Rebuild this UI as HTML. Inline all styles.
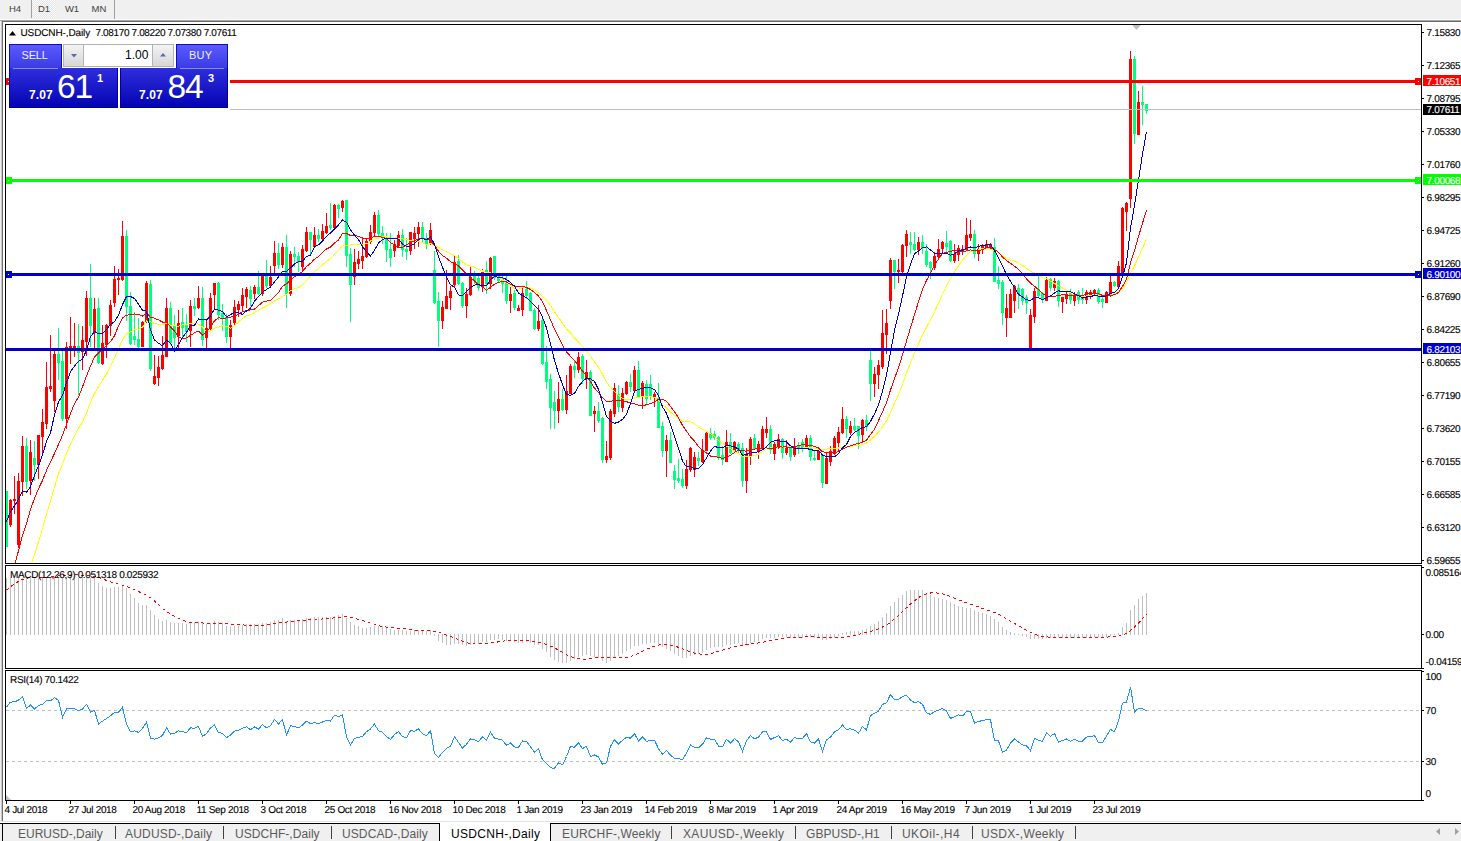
<!DOCTYPE html>
<html><head><meta charset="utf-8"><style>
html,body{margin:0;padding:0;}
body{width:1461px;height:841px;overflow:hidden;position:relative;background:#fff;font-family:"Liberation Sans",sans-serif;}
.t{position:absolute;white-space:pre;line-height:1;font-family:"Liberation Sans",sans-serif;}
.g{text-rendering:geometricPrecision;-webkit-text-stroke:0.12px currentColor;}
.bar{position:absolute;}
</style></head><body>
<div class="bar" style="left:0;top:0;width:1461px;height:19px;background:#f0f0f0"></div>
<div class="bar" style="left:0;top:19px;width:1461px;height:1px;background:#fafafa"></div>
<div class="bar" style="left:0;top:20px;width:1461px;height:1px;background:#a8a8a8"></div>
<div class="bar" style="left:0;top:21px;width:1461px;height:1px;background:#6a6a6a"></div>
<div class="bar" style="left:0;top:21px;width:1px;height:800px;background:#f0f0f0"></div>
<div class="bar" style="left:2px;top:21px;width:1px;height:800px;background:#6e6e6e"></div>
<div class="bar" style="left:1px;top:21px;width:1px;height:800px;background:#c8c8c8"></div>
<div class="bar" style="left:31px;top:0;width:1px;height:18px;background:#a0a0a0"></div>
<div class="bar" style="left:32px;top:0;width:25px;height:18px;background:repeating-conic-gradient(#e6e6e6 0% 25%,#fafafa 0% 50%) 0 0/2px 2px"></div>
<div class="bar" style="left:114px;top:0;width:1px;height:19px;background:#a0a0a0"></div>
<svg width="1461" height="841" style="position:absolute;left:0;top:0">
<defs><clipPath id="cm"><rect x="6" y="25" width="1415" height="538"/></clipPath><clipPath id="cmacd"><rect x="6" y="566" width="1415" height="102"/></clipPath><clipPath id="crsi"><rect x="6" y="671" width="1415" height="129"/></clipPath></defs>
<g clip-path="url(#cm)" shape-rendering="crispEdges">
<rect x="6" y="491" width="1" height="56" fill="#00ff7f"/>
<rect x="5" y="491" width="3" height="56" fill="#00ff7f"/>
<rect x="10" y="499" width="1" height="28" fill="#ff0000"/>
<rect x="9" y="500" width="3" height="25" fill="#ff0000"/>
<rect x="14" y="476" width="1" height="38" fill="#ff0000"/>
<rect x="13" y="499" width="3" height="2" fill="#ff0000"/>
<rect x="18" y="473" width="1" height="75" fill="#ff0000"/>
<rect x="17" y="481" width="3" height="64" fill="#ff0000"/>
<rect x="22" y="436" width="1" height="60" fill="#ff0000"/>
<rect x="21" y="446" width="3" height="36" fill="#ff0000"/>
<rect x="26" y="438" width="1" height="51" fill="#00ff7f"/>
<rect x="25" y="446" width="3" height="36" fill="#00ff7f"/>
<rect x="30" y="440" width="1" height="55" fill="#ff0000"/>
<rect x="29" y="452" width="3" height="29" fill="#ff0000"/>
<rect x="34" y="441" width="1" height="40" fill="#00ff7f"/>
<rect x="33" y="458" width="3" height="7" fill="#00ff7f"/>
<rect x="38" y="435" width="1" height="44" fill="#ff0000"/>
<rect x="37" y="435" width="3" height="30" fill="#ff0000"/>
<rect x="42" y="409" width="1" height="46" fill="#ff0000"/>
<rect x="41" y="422" width="3" height="15" fill="#ff0000"/>
<rect x="46" y="362" width="1" height="67" fill="#ff0000"/>
<rect x="45" y="387" width="3" height="37" fill="#ff0000"/>
<rect x="50" y="335" width="1" height="57" fill="#ff0000"/>
<rect x="49" y="386" width="3" height="3" fill="#ff0000"/>
<rect x="54" y="351" width="1" height="61" fill="#ff0000"/>
<rect x="53" y="354" width="3" height="47" fill="#ff0000"/>
<rect x="58" y="328" width="1" height="52" fill="#00ff7f"/>
<rect x="57" y="354" width="3" height="9" fill="#00ff7f"/>
<rect x="62" y="351" width="1" height="70" fill="#00ff7f"/>
<rect x="61" y="361" width="3" height="58" fill="#00ff7f"/>
<rect x="66" y="342" width="1" height="87" fill="#ff0000"/>
<rect x="65" y="347" width="3" height="72" fill="#ff0000"/>
<rect x="70" y="317" width="1" height="47" fill="#ff0000"/>
<rect x="69" y="346" width="3" height="4" fill="#ff0000"/>
<rect x="74" y="323" width="1" height="34" fill="#ff0000"/>
<rect x="73" y="346" width="3" height="4" fill="#ff0000"/>
<rect x="78" y="324" width="1" height="71" fill="#00ff7f"/>
<rect x="77" y="346" width="3" height="7" fill="#00ff7f"/>
<rect x="82" y="326" width="1" height="44" fill="#ff0000"/>
<rect x="81" y="340" width="3" height="12" fill="#ff0000"/>
<rect x="86" y="291" width="1" height="65" fill="#ff0000"/>
<rect x="85" y="298" width="3" height="44" fill="#ff0000"/>
<rect x="90" y="264" width="1" height="83" fill="#00ff7f"/>
<rect x="89" y="298" width="3" height="28" fill="#00ff7f"/>
<rect x="94" y="298" width="1" height="51" fill="#ff0000"/>
<rect x="93" y="309" width="3" height="24" fill="#ff0000"/>
<rect x="98" y="298" width="1" height="66" fill="#00ff7f"/>
<rect x="97" y="308" width="3" height="55" fill="#00ff7f"/>
<rect x="102" y="325" width="1" height="40" fill="#ff0000"/>
<rect x="101" y="343" width="3" height="21" fill="#ff0000"/>
<rect x="106" y="324" width="1" height="34" fill="#ff0000"/>
<rect x="105" y="325" width="3" height="20" fill="#ff0000"/>
<rect x="110" y="300" width="1" height="36" fill="#ff0000"/>
<rect x="109" y="305" width="3" height="21" fill="#ff0000"/>
<rect x="114" y="266" width="1" height="41" fill="#ff0000"/>
<rect x="113" y="279" width="3" height="24" fill="#ff0000"/>
<rect x="118" y="269" width="1" height="26" fill="#ff0000"/>
<rect x="117" y="278" width="3" height="2" fill="#ff0000"/>
<rect x="122" y="221" width="1" height="60" fill="#ff0000"/>
<rect x="121" y="236" width="3" height="44" fill="#ff0000"/>
<rect x="126" y="230" width="1" height="91" fill="#00ff7f"/>
<rect x="125" y="236" width="3" height="71" fill="#00ff7f"/>
<rect x="130" y="292" width="1" height="53" fill="#00ff7f"/>
<rect x="129" y="306" width="3" height="38" fill="#00ff7f"/>
<rect x="134" y="312" width="1" height="33" fill="#00ff7f"/>
<rect x="133" y="336" width="3" height="4" fill="#00ff7f"/>
<rect x="138" y="318" width="1" height="30" fill="#00ff7f"/>
<rect x="137" y="339" width="3" height="8" fill="#00ff7f"/>
<rect x="142" y="321" width="1" height="26" fill="#ff0000"/>
<rect x="141" y="322" width="3" height="25" fill="#ff0000"/>
<rect x="146" y="281" width="1" height="42" fill="#ff0000"/>
<rect x="145" y="283" width="3" height="39" fill="#ff0000"/>
<rect x="150" y="280" width="1" height="91" fill="#00ff7f"/>
<rect x="149" y="284" width="3" height="85" fill="#00ff7f"/>
<rect x="154" y="355" width="1" height="30" fill="#ff0000"/>
<rect x="153" y="376" width="3" height="8" fill="#ff0000"/>
<rect x="158" y="356" width="1" height="30" fill="#ff0000"/>
<rect x="157" y="367" width="3" height="11" fill="#ff0000"/>
<rect x="162" y="336" width="1" height="34" fill="#ff0000"/>
<rect x="161" y="355" width="3" height="14" fill="#ff0000"/>
<rect x="166" y="298" width="1" height="59" fill="#ff0000"/>
<rect x="165" y="308" width="3" height="49" fill="#ff0000"/>
<rect x="170" y="302" width="1" height="43" fill="#00ff7f"/>
<rect x="169" y="308" width="3" height="35" fill="#00ff7f"/>
<rect x="174" y="315" width="1" height="34" fill="#00ff7f"/>
<rect x="173" y="325" width="3" height="13" fill="#00ff7f"/>
<rect x="178" y="310" width="1" height="39" fill="#ff0000"/>
<rect x="177" y="323" width="3" height="13" fill="#ff0000"/>
<rect x="182" y="308" width="1" height="31" fill="#00ff7f"/>
<rect x="181" y="322" width="3" height="6" fill="#00ff7f"/>
<rect x="186" y="314" width="1" height="28" fill="#00ff7f"/>
<rect x="185" y="325" width="3" height="7" fill="#00ff7f"/>
<rect x="190" y="300" width="1" height="47" fill="#ff0000"/>
<rect x="189" y="306" width="3" height="25" fill="#ff0000"/>
<rect x="194" y="298" width="1" height="18" fill="#00ff7f"/>
<rect x="193" y="306" width="3" height="3" fill="#00ff7f"/>
<rect x="198" y="286" width="1" height="23" fill="#ff0000"/>
<rect x="197" y="298" width="3" height="10" fill="#ff0000"/>
<rect x="202" y="287" width="1" height="59" fill="#00ff7f"/>
<rect x="201" y="298" width="3" height="42" fill="#00ff7f"/>
<rect x="206" y="320" width="1" height="29" fill="#ff0000"/>
<rect x="205" y="328" width="3" height="10" fill="#ff0000"/>
<rect x="210" y="293" width="1" height="39" fill="#ff0000"/>
<rect x="209" y="298" width="3" height="31" fill="#ff0000"/>
<rect x="214" y="283" width="1" height="26" fill="#ff0000"/>
<rect x="213" y="283" width="3" height="12" fill="#ff0000"/>
<rect x="218" y="282" width="1" height="38" fill="#00ff7f"/>
<rect x="217" y="283" width="3" height="32" fill="#00ff7f"/>
<rect x="222" y="304" width="1" height="27" fill="#00ff7f"/>
<rect x="221" y="313" width="3" height="5" fill="#00ff7f"/>
<rect x="226" y="314" width="1" height="29" fill="#00ff7f"/>
<rect x="225" y="317" width="3" height="20" fill="#00ff7f"/>
<rect x="230" y="320" width="1" height="29" fill="#ff0000"/>
<rect x="229" y="325" width="3" height="12" fill="#ff0000"/>
<rect x="234" y="300" width="1" height="25" fill="#ff0000"/>
<rect x="233" y="307" width="3" height="16" fill="#ff0000"/>
<rect x="238" y="301" width="1" height="16" fill="#ff0000"/>
<rect x="237" y="304" width="3" height="6" fill="#ff0000"/>
<rect x="242" y="288" width="1" height="23" fill="#ff0000"/>
<rect x="241" y="295" width="3" height="11" fill="#ff0000"/>
<rect x="246" y="287" width="1" height="21" fill="#ff0000"/>
<rect x="245" y="289" width="3" height="8" fill="#ff0000"/>
<rect x="250" y="286" width="1" height="20" fill="#00ff7f"/>
<rect x="249" y="290" width="3" height="9" fill="#00ff7f"/>
<rect x="254" y="285" width="1" height="14" fill="#ff0000"/>
<rect x="253" y="287" width="3" height="7" fill="#ff0000"/>
<rect x="258" y="271" width="1" height="24" fill="#00ff7f"/>
<rect x="257" y="287" width="3" height="7" fill="#00ff7f"/>
<rect x="262" y="275" width="1" height="21" fill="#ff0000"/>
<rect x="261" y="276" width="3" height="18" fill="#ff0000"/>
<rect x="266" y="260" width="1" height="28" fill="#00ff7f"/>
<rect x="265" y="275" width="3" height="11" fill="#00ff7f"/>
<rect x="270" y="266" width="1" height="22" fill="#ff0000"/>
<rect x="269" y="277" width="3" height="9" fill="#ff0000"/>
<rect x="274" y="241" width="1" height="35" fill="#ff0000"/>
<rect x="273" y="253" width="3" height="13" fill="#ff0000"/>
<rect x="278" y="243" width="1" height="26" fill="#00ff7f"/>
<rect x="277" y="253" width="3" height="12" fill="#00ff7f"/>
<rect x="282" y="243" width="1" height="25" fill="#ff0000"/>
<rect x="281" y="247" width="3" height="18" fill="#ff0000"/>
<rect x="286" y="235" width="1" height="73" fill="#00ff7f"/>
<rect x="285" y="247" width="3" height="47" fill="#00ff7f"/>
<rect x="290" y="251" width="1" height="45" fill="#ff0000"/>
<rect x="289" y="254" width="3" height="40" fill="#ff0000"/>
<rect x="294" y="247" width="1" height="20" fill="#00ff7f"/>
<rect x="293" y="254" width="3" height="3" fill="#00ff7f"/>
<rect x="298" y="252" width="1" height="20" fill="#00ff7f"/>
<rect x="297" y="256" width="3" height="6" fill="#00ff7f"/>
<rect x="302" y="245" width="1" height="27" fill="#ff0000"/>
<rect x="301" y="249" width="3" height="18" fill="#ff0000"/>
<rect x="306" y="227" width="1" height="25" fill="#ff0000"/>
<rect x="305" y="232" width="3" height="19" fill="#ff0000"/>
<rect x="310" y="232" width="1" height="22" fill="#00ff7f"/>
<rect x="309" y="232" width="3" height="8" fill="#00ff7f"/>
<rect x="314" y="227" width="1" height="21" fill="#ff0000"/>
<rect x="313" y="235" width="3" height="12" fill="#ff0000"/>
<rect x="318" y="229" width="1" height="13" fill="#00ff7f"/>
<rect x="317" y="235" width="3" height="4" fill="#00ff7f"/>
<rect x="322" y="224" width="1" height="16" fill="#ff0000"/>
<rect x="321" y="231" width="3" height="8" fill="#ff0000"/>
<rect x="326" y="213" width="1" height="21" fill="#ff0000"/>
<rect x="325" y="226" width="3" height="7" fill="#ff0000"/>
<rect x="330" y="203" width="1" height="27" fill="#00ff7f"/>
<rect x="329" y="225" width="3" height="3" fill="#00ff7f"/>
<rect x="334" y="204" width="1" height="24" fill="#ff0000"/>
<rect x="333" y="205" width="3" height="23" fill="#ff0000"/>
<rect x="338" y="204" width="1" height="14" fill="#00ff7f"/>
<rect x="337" y="205" width="3" height="4" fill="#00ff7f"/>
<rect x="342" y="200" width="1" height="12" fill="#ff0000"/>
<rect x="341" y="201" width="3" height="7" fill="#ff0000"/>
<rect x="346" y="200" width="1" height="67" fill="#00ff7f"/>
<rect x="345" y="200" width="3" height="56" fill="#00ff7f"/>
<rect x="350" y="248" width="1" height="74" fill="#00ff7f"/>
<rect x="349" y="254" width="3" height="31" fill="#00ff7f"/>
<rect x="354" y="249" width="1" height="36" fill="#ff0000"/>
<rect x="353" y="262" width="3" height="15" fill="#ff0000"/>
<rect x="358" y="251" width="1" height="18" fill="#ff0000"/>
<rect x="357" y="259" width="3" height="5" fill="#ff0000"/>
<rect x="362" y="239" width="1" height="30" fill="#ff0000"/>
<rect x="361" y="256" width="3" height="5" fill="#ff0000"/>
<rect x="366" y="238" width="1" height="20" fill="#ff0000"/>
<rect x="365" y="241" width="3" height="16" fill="#ff0000"/>
<rect x="370" y="225" width="1" height="19" fill="#ff0000"/>
<rect x="369" y="232" width="3" height="10" fill="#ff0000"/>
<rect x="374" y="212" width="1" height="25" fill="#ff0000"/>
<rect x="373" y="215" width="3" height="18" fill="#ff0000"/>
<rect x="378" y="210" width="1" height="26" fill="#00ff7f"/>
<rect x="377" y="215" width="3" height="19" fill="#00ff7f"/>
<rect x="382" y="226" width="1" height="18" fill="#00ff7f"/>
<rect x="381" y="233" width="3" height="5" fill="#00ff7f"/>
<rect x="386" y="233" width="1" height="29" fill="#00ff7f"/>
<rect x="385" y="238" width="3" height="12" fill="#00ff7f"/>
<rect x="390" y="233" width="1" height="34" fill="#00ff7f"/>
<rect x="389" y="249" width="3" height="9" fill="#00ff7f"/>
<rect x="394" y="240" width="1" height="17" fill="#ff0000"/>
<rect x="393" y="244" width="3" height="7" fill="#ff0000"/>
<rect x="398" y="231" width="1" height="17" fill="#ff0000"/>
<rect x="397" y="235" width="3" height="11" fill="#ff0000"/>
<rect x="402" y="229" width="1" height="28" fill="#00ff7f"/>
<rect x="401" y="235" width="3" height="15" fill="#00ff7f"/>
<rect x="406" y="238" width="1" height="22" fill="#00ff7f"/>
<rect x="405" y="249" width="3" height="3" fill="#00ff7f"/>
<rect x="410" y="232" width="1" height="23" fill="#ff0000"/>
<rect x="409" y="232" width="3" height="19" fill="#ff0000"/>
<rect x="414" y="227" width="1" height="22" fill="#ff0000"/>
<rect x="413" y="233" width="3" height="6" fill="#ff0000"/>
<rect x="418" y="222" width="1" height="25" fill="#ff0000"/>
<rect x="417" y="227" width="3" height="7" fill="#ff0000"/>
<rect x="422" y="222" width="1" height="20" fill="#00ff7f"/>
<rect x="421" y="227" width="3" height="12" fill="#00ff7f"/>
<rect x="426" y="233" width="1" height="16" fill="#00ff7f"/>
<rect x="425" y="238" width="3" height="6" fill="#00ff7f"/>
<rect x="430" y="223" width="1" height="22" fill="#ff0000"/>
<rect x="429" y="230" width="3" height="14" fill="#ff0000"/>
<rect x="434" y="251" width="1" height="53" fill="#00ff7f"/>
<rect x="433" y="270" width="3" height="33" fill="#00ff7f"/>
<rect x="438" y="292" width="1" height="55" fill="#00ff7f"/>
<rect x="437" y="301" width="3" height="20" fill="#00ff7f"/>
<rect x="442" y="301" width="1" height="28" fill="#ff0000"/>
<rect x="441" y="307" width="3" height="14" fill="#ff0000"/>
<rect x="446" y="270" width="1" height="39" fill="#ff0000"/>
<rect x="445" y="296" width="3" height="13" fill="#ff0000"/>
<rect x="450" y="286" width="1" height="24" fill="#ff0000"/>
<rect x="449" y="291" width="3" height="7" fill="#ff0000"/>
<rect x="454" y="256" width="1" height="31" fill="#ff0000"/>
<rect x="453" y="262" width="3" height="23" fill="#ff0000"/>
<rect x="458" y="255" width="1" height="30" fill="#00ff7f"/>
<rect x="457" y="261" width="3" height="23" fill="#00ff7f"/>
<rect x="462" y="282" width="1" height="26" fill="#00ff7f"/>
<rect x="461" y="283" width="3" height="23" fill="#00ff7f"/>
<rect x="466" y="288" width="1" height="30" fill="#ff0000"/>
<rect x="465" y="294" width="3" height="12" fill="#ff0000"/>
<rect x="470" y="266" width="1" height="30" fill="#ff0000"/>
<rect x="469" y="277" width="3" height="18" fill="#ff0000"/>
<rect x="474" y="271" width="1" height="13" fill="#00ff7f"/>
<rect x="473" y="276" width="3" height="5" fill="#00ff7f"/>
<rect x="478" y="276" width="1" height="15" fill="#00ff7f"/>
<rect x="477" y="278" width="3" height="10" fill="#00ff7f"/>
<rect x="482" y="269" width="1" height="23" fill="#ff0000"/>
<rect x="481" y="272" width="3" height="15" fill="#ff0000"/>
<rect x="486" y="261" width="1" height="33" fill="#00ff7f"/>
<rect x="485" y="270" width="3" height="14" fill="#00ff7f"/>
<rect x="490" y="257" width="1" height="32" fill="#ff0000"/>
<rect x="489" y="258" width="3" height="26" fill="#ff0000"/>
<rect x="494" y="256" width="1" height="24" fill="#00ff7f"/>
<rect x="493" y="256" width="3" height="22" fill="#00ff7f"/>
<rect x="498" y="276" width="1" height="7" fill="#00ff7f"/>
<rect x="497" y="276" width="3" height="5" fill="#00ff7f"/>
<rect x="502" y="276" width="1" height="17" fill="#00ff7f"/>
<rect x="501" y="279" width="3" height="5" fill="#00ff7f"/>
<rect x="506" y="276" width="1" height="28" fill="#00ff7f"/>
<rect x="505" y="282" width="3" height="19" fill="#00ff7f"/>
<rect x="510" y="287" width="1" height="26" fill="#ff0000"/>
<rect x="509" y="294" width="3" height="7" fill="#ff0000"/>
<rect x="514" y="290" width="1" height="20" fill="#00ff7f"/>
<rect x="513" y="293" width="3" height="15" fill="#00ff7f"/>
<rect x="518" y="305" width="1" height="6" fill="#ff0000"/>
<rect x="517" y="308" width="3" height="3" fill="#ff0000"/>
<rect x="522" y="288" width="1" height="28" fill="#ff0000"/>
<rect x="521" y="293" width="3" height="17" fill="#ff0000"/>
<rect x="526" y="281" width="1" height="18" fill="#00ff7f"/>
<rect x="525" y="289" width="3" height="7" fill="#00ff7f"/>
<rect x="530" y="292" width="1" height="19" fill="#00ff7f"/>
<rect x="529" y="293" width="3" height="18" fill="#00ff7f"/>
<rect x="534" y="308" width="1" height="22" fill="#00ff7f"/>
<rect x="533" y="310" width="3" height="19" fill="#00ff7f"/>
<rect x="538" y="305" width="1" height="26" fill="#ff0000"/>
<rect x="537" y="321" width="3" height="8" fill="#ff0000"/>
<rect x="542" y="319" width="1" height="46" fill="#00ff7f"/>
<rect x="541" y="320" width="3" height="44" fill="#00ff7f"/>
<rect x="546" y="346" width="1" height="43" fill="#00ff7f"/>
<rect x="545" y="362" width="3" height="20" fill="#00ff7f"/>
<rect x="550" y="374" width="1" height="55" fill="#00ff7f"/>
<rect x="549" y="379" width="3" height="29" fill="#00ff7f"/>
<rect x="554" y="391" width="1" height="38" fill="#00ff7f"/>
<rect x="553" y="402" width="3" height="9" fill="#00ff7f"/>
<rect x="558" y="382" width="1" height="41" fill="#ff0000"/>
<rect x="557" y="399" width="3" height="12" fill="#ff0000"/>
<rect x="562" y="389" width="1" height="22" fill="#00ff7f"/>
<rect x="561" y="399" width="3" height="11" fill="#00ff7f"/>
<rect x="566" y="375" width="1" height="39" fill="#ff0000"/>
<rect x="565" y="391" width="3" height="19" fill="#ff0000"/>
<rect x="570" y="364" width="1" height="30" fill="#ff0000"/>
<rect x="569" y="366" width="3" height="28" fill="#ff0000"/>
<rect x="574" y="361" width="1" height="17" fill="#00ff7f"/>
<rect x="573" y="366" width="3" height="4" fill="#00ff7f"/>
<rect x="578" y="352" width="1" height="21" fill="#ff0000"/>
<rect x="577" y="357" width="3" height="13" fill="#ff0000"/>
<rect x="582" y="354" width="1" height="30" fill="#00ff7f"/>
<rect x="581" y="356" width="3" height="23" fill="#00ff7f"/>
<rect x="586" y="360" width="1" height="29" fill="#ff0000"/>
<rect x="585" y="372" width="3" height="6" fill="#ff0000"/>
<rect x="590" y="370" width="1" height="46" fill="#00ff7f"/>
<rect x="589" y="372" width="3" height="44" fill="#00ff7f"/>
<rect x="594" y="406" width="1" height="26" fill="#ff0000"/>
<rect x="593" y="411" width="3" height="3" fill="#ff0000"/>
<rect x="598" y="402" width="1" height="21" fill="#00ff7f"/>
<rect x="597" y="411" width="3" height="10" fill="#00ff7f"/>
<rect x="602" y="417" width="1" height="46" fill="#00ff7f"/>
<rect x="601" y="418" width="3" height="42" fill="#00ff7f"/>
<rect x="606" y="441" width="1" height="22" fill="#ff0000"/>
<rect x="605" y="456" width="3" height="4" fill="#ff0000"/>
<rect x="610" y="409" width="1" height="51" fill="#ff0000"/>
<rect x="609" y="411" width="3" height="47" fill="#ff0000"/>
<rect x="614" y="383" width="1" height="34" fill="#ff0000"/>
<rect x="613" y="388" width="3" height="26" fill="#ff0000"/>
<rect x="618" y="385" width="1" height="27" fill="#00ff7f"/>
<rect x="617" y="394" width="3" height="13" fill="#00ff7f"/>
<rect x="622" y="388" width="1" height="24" fill="#ff0000"/>
<rect x="621" y="393" width="3" height="15" fill="#ff0000"/>
<rect x="626" y="381" width="1" height="14" fill="#ff0000"/>
<rect x="625" y="382" width="3" height="12" fill="#ff0000"/>
<rect x="630" y="374" width="1" height="18" fill="#00ff7f"/>
<rect x="629" y="382" width="3" height="5" fill="#00ff7f"/>
<rect x="634" y="366" width="1" height="26" fill="#ff0000"/>
<rect x="633" y="370" width="3" height="21" fill="#ff0000"/>
<rect x="638" y="361" width="1" height="36" fill="#00ff7f"/>
<rect x="637" y="370" width="3" height="27" fill="#00ff7f"/>
<rect x="642" y="381" width="1" height="28" fill="#ff0000"/>
<rect x="641" y="383" width="3" height="14" fill="#ff0000"/>
<rect x="646" y="380" width="1" height="24" fill="#00ff7f"/>
<rect x="645" y="384" width="3" height="15" fill="#00ff7f"/>
<rect x="650" y="375" width="1" height="25" fill="#00ff7f"/>
<rect x="649" y="384" width="3" height="13" fill="#00ff7f"/>
<rect x="654" y="392" width="1" height="15" fill="#ff0000"/>
<rect x="653" y="394" width="3" height="3" fill="#ff0000"/>
<rect x="658" y="383" width="1" height="45" fill="#00ff7f"/>
<rect x="657" y="398" width="3" height="30" fill="#00ff7f"/>
<rect x="662" y="422" width="1" height="35" fill="#00ff7f"/>
<rect x="661" y="426" width="3" height="25" fill="#00ff7f"/>
<rect x="666" y="435" width="1" height="42" fill="#ff0000"/>
<rect x="665" y="440" width="3" height="11" fill="#ff0000"/>
<rect x="670" y="432" width="1" height="31" fill="#00ff7f"/>
<rect x="669" y="440" width="3" height="23" fill="#00ff7f"/>
<rect x="674" y="465" width="1" height="24" fill="#00ff7f"/>
<rect x="673" y="471" width="3" height="9" fill="#00ff7f"/>
<rect x="678" y="459" width="1" height="24" fill="#00ff7f"/>
<rect x="677" y="478" width="3" height="3" fill="#00ff7f"/>
<rect x="682" y="469" width="1" height="19" fill="#00ff7f"/>
<rect x="681" y="479" width="3" height="7" fill="#00ff7f"/>
<rect x="686" y="460" width="1" height="29" fill="#ff0000"/>
<rect x="685" y="469" width="3" height="17" fill="#ff0000"/>
<rect x="690" y="447" width="1" height="25" fill="#ff0000"/>
<rect x="689" y="448" width="3" height="22" fill="#ff0000"/>
<rect x="694" y="452" width="1" height="25" fill="#ff0000"/>
<rect x="693" y="457" width="3" height="13" fill="#ff0000"/>
<rect x="698" y="452" width="1" height="14" fill="#00ff7f"/>
<rect x="697" y="458" width="3" height="3" fill="#00ff7f"/>
<rect x="702" y="439" width="1" height="24" fill="#ff0000"/>
<rect x="701" y="450" width="3" height="12" fill="#ff0000"/>
<rect x="706" y="431" width="1" height="20" fill="#ff0000"/>
<rect x="705" y="433" width="3" height="18" fill="#ff0000"/>
<rect x="710" y="428" width="1" height="12" fill="#00ff7f"/>
<rect x="709" y="433" width="3" height="5" fill="#00ff7f"/>
<rect x="714" y="431" width="1" height="9" fill="#00ff7f"/>
<rect x="713" y="434" width="3" height="4" fill="#00ff7f"/>
<rect x="718" y="436" width="1" height="24" fill="#00ff7f"/>
<rect x="717" y="437" width="3" height="21" fill="#00ff7f"/>
<rect x="722" y="446" width="1" height="19" fill="#00ff7f"/>
<rect x="721" y="455" width="3" height="5" fill="#00ff7f"/>
<rect x="726" y="430" width="1" height="32" fill="#ff0000"/>
<rect x="725" y="442" width="3" height="20" fill="#ff0000"/>
<rect x="730" y="433" width="1" height="21" fill="#00ff7f"/>
<rect x="729" y="442" width="3" height="11" fill="#00ff7f"/>
<rect x="734" y="441" width="1" height="11" fill="#ff0000"/>
<rect x="733" y="442" width="3" height="9" fill="#ff0000"/>
<rect x="738" y="442" width="1" height="11" fill="#00ff7f"/>
<rect x="737" y="444" width="3" height="7" fill="#00ff7f"/>
<rect x="742" y="443" width="1" height="44" fill="#00ff7f"/>
<rect x="741" y="448" width="3" height="33" fill="#00ff7f"/>
<rect x="746" y="448" width="1" height="45" fill="#ff0000"/>
<rect x="745" y="454" width="3" height="27" fill="#ff0000"/>
<rect x="750" y="437" width="1" height="28" fill="#ff0000"/>
<rect x="749" y="439" width="3" height="17" fill="#ff0000"/>
<rect x="754" y="434" width="1" height="16" fill="#00ff7f"/>
<rect x="753" y="438" width="3" height="11" fill="#00ff7f"/>
<rect x="758" y="441" width="1" height="18" fill="#ff0000"/>
<rect x="757" y="444" width="3" height="8" fill="#ff0000"/>
<rect x="762" y="426" width="1" height="23" fill="#ff0000"/>
<rect x="761" y="429" width="3" height="19" fill="#ff0000"/>
<rect x="766" y="417" width="1" height="21" fill="#ff0000"/>
<rect x="765" y="429" width="3" height="4" fill="#ff0000"/>
<rect x="770" y="425" width="1" height="29" fill="#00ff7f"/>
<rect x="769" y="429" width="3" height="21" fill="#00ff7f"/>
<rect x="774" y="442" width="1" height="18" fill="#ff0000"/>
<rect x="773" y="444" width="3" height="10" fill="#ff0000"/>
<rect x="778" y="434" width="1" height="15" fill="#ff0000"/>
<rect x="777" y="439" width="3" height="9" fill="#ff0000"/>
<rect x="782" y="438" width="1" height="21" fill="#00ff7f"/>
<rect x="781" y="439" width="3" height="14" fill="#00ff7f"/>
<rect x="786" y="440" width="1" height="15" fill="#ff0000"/>
<rect x="785" y="448" width="3" height="5" fill="#ff0000"/>
<rect x="790" y="448" width="1" height="13" fill="#00ff7f"/>
<rect x="789" y="448" width="3" height="9" fill="#00ff7f"/>
<rect x="794" y="438" width="1" height="19" fill="#ff0000"/>
<rect x="793" y="446" width="3" height="9" fill="#ff0000"/>
<rect x="798" y="442" width="1" height="12" fill="#00ff7f"/>
<rect x="797" y="445" width="3" height="4" fill="#00ff7f"/>
<rect x="802" y="439" width="1" height="13" fill="#00ff7f"/>
<rect x="801" y="442" width="3" height="7" fill="#00ff7f"/>
<rect x="806" y="435" width="1" height="13" fill="#ff0000"/>
<rect x="805" y="438" width="3" height="9" fill="#ff0000"/>
<rect x="810" y="435" width="1" height="26" fill="#00ff7f"/>
<rect x="809" y="438" width="3" height="19" fill="#00ff7f"/>
<rect x="814" y="451" width="1" height="10" fill="#00ff7f"/>
<rect x="813" y="458" width="3" height="2" fill="#00ff7f"/>
<rect x="818" y="450" width="1" height="10" fill="#ff0000"/>
<rect x="817" y="451" width="3" height="9" fill="#ff0000"/>
<rect x="822" y="454" width="1" height="34" fill="#00ff7f"/>
<rect x="821" y="455" width="3" height="28" fill="#00ff7f"/>
<rect x="826" y="453" width="1" height="31" fill="#ff0000"/>
<rect x="825" y="458" width="3" height="26" fill="#ff0000"/>
<rect x="830" y="446" width="1" height="20" fill="#ff0000"/>
<rect x="829" y="451" width="3" height="11" fill="#ff0000"/>
<rect x="834" y="436" width="1" height="19" fill="#ff0000"/>
<rect x="833" y="438" width="3" height="16" fill="#ff0000"/>
<rect x="838" y="427" width="1" height="25" fill="#ff0000"/>
<rect x="837" y="432" width="3" height="11" fill="#ff0000"/>
<rect x="842" y="407" width="1" height="27" fill="#ff0000"/>
<rect x="841" y="419" width="3" height="14" fill="#ff0000"/>
<rect x="846" y="416" width="1" height="22" fill="#00ff7f"/>
<rect x="845" y="419" width="3" height="10" fill="#00ff7f"/>
<rect x="850" y="421" width="1" height="14" fill="#ff0000"/>
<rect x="849" y="426" width="3" height="7" fill="#ff0000"/>
<rect x="854" y="418" width="1" height="13" fill="#00ff7f"/>
<rect x="853" y="426" width="3" height="4" fill="#00ff7f"/>
<rect x="858" y="426" width="1" height="23" fill="#00ff7f"/>
<rect x="857" y="426" width="3" height="10" fill="#00ff7f"/>
<rect x="862" y="419" width="1" height="23" fill="#ff0000"/>
<rect x="861" y="420" width="3" height="15" fill="#ff0000"/>
<rect x="866" y="415" width="1" height="16" fill="#00ff7f"/>
<rect x="865" y="420" width="3" height="7" fill="#00ff7f"/>
<rect x="870" y="351" width="1" height="50" fill="#00ff7f"/>
<rect x="869" y="360" width="3" height="24" fill="#00ff7f"/>
<rect x="874" y="367" width="1" height="30" fill="#ff0000"/>
<rect x="873" y="374" width="3" height="10" fill="#ff0000"/>
<rect x="878" y="360" width="1" height="29" fill="#ff0000"/>
<rect x="877" y="365" width="3" height="10" fill="#ff0000"/>
<rect x="882" y="310" width="1" height="59" fill="#ff0000"/>
<rect x="881" y="333" width="3" height="34" fill="#ff0000"/>
<rect x="886" y="309" width="1" height="45" fill="#ff0000"/>
<rect x="885" y="323" width="3" height="12" fill="#ff0000"/>
<rect x="890" y="258" width="1" height="51" fill="#ff0000"/>
<rect x="889" y="260" width="3" height="41" fill="#ff0000"/>
<rect x="894" y="260" width="1" height="29" fill="#00ff7f"/>
<rect x="893" y="260" width="3" height="12" fill="#00ff7f"/>
<rect x="898" y="259" width="1" height="24" fill="#ff0000"/>
<rect x="897" y="270" width="3" height="2" fill="#ff0000"/>
<rect x="902" y="244" width="1" height="29" fill="#ff0000"/>
<rect x="901" y="245" width="3" height="27" fill="#ff0000"/>
<rect x="906" y="230" width="1" height="27" fill="#ff0000"/>
<rect x="905" y="234" width="3" height="12" fill="#ff0000"/>
<rect x="910" y="232" width="1" height="22" fill="#00ff7f"/>
<rect x="909" y="242" width="3" height="3" fill="#00ff7f"/>
<rect x="914" y="232" width="1" height="19" fill="#00ff7f"/>
<rect x="913" y="244" width="3" height="6" fill="#00ff7f"/>
<rect x="918" y="237" width="1" height="18" fill="#ff0000"/>
<rect x="917" y="242" width="3" height="8" fill="#ff0000"/>
<rect x="922" y="235" width="1" height="19" fill="#00ff7f"/>
<rect x="921" y="242" width="3" height="6" fill="#00ff7f"/>
<rect x="926" y="244" width="1" height="23" fill="#00ff7f"/>
<rect x="925" y="251" width="3" height="14" fill="#00ff7f"/>
<rect x="930" y="261" width="1" height="18" fill="#00ff7f"/>
<rect x="929" y="262" width="3" height="6" fill="#00ff7f"/>
<rect x="934" y="252" width="1" height="18" fill="#ff0000"/>
<rect x="933" y="256" width="3" height="12" fill="#ff0000"/>
<rect x="938" y="239" width="1" height="19" fill="#ff0000"/>
<rect x="937" y="249" width="3" height="8" fill="#ff0000"/>
<rect x="942" y="241" width="1" height="13" fill="#ff0000"/>
<rect x="941" y="242" width="3" height="7" fill="#ff0000"/>
<rect x="946" y="231" width="1" height="21" fill="#00ff7f"/>
<rect x="945" y="243" width="3" height="4" fill="#00ff7f"/>
<rect x="950" y="240" width="1" height="22" fill="#00ff7f"/>
<rect x="949" y="241" width="3" height="20" fill="#00ff7f"/>
<rect x="954" y="244" width="1" height="19" fill="#ff0000"/>
<rect x="953" y="254" width="3" height="7" fill="#ff0000"/>
<rect x="958" y="245" width="1" height="16" fill="#ff0000"/>
<rect x="957" y="248" width="3" height="7" fill="#ff0000"/>
<rect x="962" y="245" width="1" height="10" fill="#ff0000"/>
<rect x="961" y="249" width="3" height="2" fill="#ff0000"/>
<rect x="966" y="218" width="1" height="33" fill="#ff0000"/>
<rect x="965" y="235" width="3" height="15" fill="#ff0000"/>
<rect x="970" y="220" width="1" height="21" fill="#ff0000"/>
<rect x="969" y="234" width="3" height="4" fill="#ff0000"/>
<rect x="974" y="230" width="1" height="28" fill="#00ff7f"/>
<rect x="973" y="234" width="3" height="20" fill="#00ff7f"/>
<rect x="978" y="244" width="1" height="17" fill="#ff0000"/>
<rect x="977" y="249" width="3" height="5" fill="#ff0000"/>
<rect x="982" y="244" width="1" height="10" fill="#ff0000"/>
<rect x="981" y="246" width="3" height="4" fill="#ff0000"/>
<rect x="986" y="240" width="1" height="9" fill="#ff0000"/>
<rect x="985" y="244" width="3" height="5" fill="#ff0000"/>
<rect x="990" y="243" width="1" height="7" fill="#ff0000"/>
<rect x="989" y="244" width="3" height="5" fill="#ff0000"/>
<rect x="994" y="238" width="1" height="44" fill="#00ff7f"/>
<rect x="993" y="247" width="3" height="35" fill="#00ff7f"/>
<rect x="998" y="266" width="1" height="23" fill="#00ff7f"/>
<rect x="997" y="280" width="3" height="4" fill="#00ff7f"/>
<rect x="1002" y="280" width="1" height="45" fill="#00ff7f"/>
<rect x="1001" y="282" width="3" height="31" fill="#00ff7f"/>
<rect x="1006" y="294" width="1" height="43" fill="#ff0000"/>
<rect x="1005" y="308" width="3" height="10" fill="#ff0000"/>
<rect x="1010" y="289" width="1" height="29" fill="#ff0000"/>
<rect x="1009" y="294" width="3" height="24" fill="#ff0000"/>
<rect x="1014" y="285" width="1" height="28" fill="#ff0000"/>
<rect x="1013" y="286" width="3" height="15" fill="#ff0000"/>
<rect x="1018" y="284" width="1" height="25" fill="#00ff7f"/>
<rect x="1017" y="288" width="3" height="6" fill="#00ff7f"/>
<rect x="1022" y="288" width="1" height="17" fill="#00ff7f"/>
<rect x="1021" y="289" width="3" height="12" fill="#00ff7f"/>
<rect x="1026" y="295" width="1" height="19" fill="#00ff7f"/>
<rect x="1025" y="297" width="3" height="6" fill="#00ff7f"/>
<rect x="1030" y="309" width="1" height="41" fill="#ff0000"/>
<rect x="1029" y="315" width="3" height="35" fill="#ff0000"/>
<rect x="1034" y="288" width="1" height="35" fill="#ff0000"/>
<rect x="1033" y="291" width="3" height="26" fill="#ff0000"/>
<rect x="1038" y="276" width="1" height="21" fill="#00ff7f"/>
<rect x="1037" y="289" width="3" height="7" fill="#00ff7f"/>
<rect x="1042" y="292" width="1" height="11" fill="#00ff7f"/>
<rect x="1041" y="293" width="3" height="6" fill="#00ff7f"/>
<rect x="1046" y="277" width="1" height="24" fill="#ff0000"/>
<rect x="1045" y="280" width="3" height="21" fill="#ff0000"/>
<rect x="1050" y="278" width="1" height="13" fill="#00ff7f"/>
<rect x="1049" y="279" width="3" height="9" fill="#00ff7f"/>
<rect x="1054" y="278" width="1" height="13" fill="#ff0000"/>
<rect x="1053" y="281" width="3" height="7" fill="#ff0000"/>
<rect x="1058" y="280" width="1" height="27" fill="#00ff7f"/>
<rect x="1057" y="281" width="3" height="20" fill="#00ff7f"/>
<rect x="1062" y="297" width="1" height="16" fill="#ff0000"/>
<rect x="1061" y="297" width="3" height="5" fill="#ff0000"/>
<rect x="1066" y="290" width="1" height="14" fill="#ff0000"/>
<rect x="1065" y="294" width="3" height="5" fill="#ff0000"/>
<rect x="1070" y="289" width="1" height="15" fill="#00ff7f"/>
<rect x="1069" y="293" width="3" height="7" fill="#00ff7f"/>
<rect x="1074" y="292" width="1" height="14" fill="#ff0000"/>
<rect x="1073" y="295" width="3" height="6" fill="#ff0000"/>
<rect x="1078" y="290" width="1" height="14" fill="#00ff7f"/>
<rect x="1077" y="292" width="3" height="8" fill="#00ff7f"/>
<rect x="1082" y="288" width="1" height="16" fill="#00ff7f"/>
<rect x="1081" y="297" width="3" height="3" fill="#00ff7f"/>
<rect x="1086" y="290" width="1" height="14" fill="#ff0000"/>
<rect x="1085" y="292" width="3" height="8" fill="#ff0000"/>
<rect x="1090" y="290" width="1" height="9" fill="#ff0000"/>
<rect x="1089" y="292" width="3" height="4" fill="#ff0000"/>
<rect x="1094" y="289" width="1" height="7" fill="#ff0000"/>
<rect x="1093" y="290" width="3" height="3" fill="#ff0000"/>
<rect x="1098" y="288" width="1" height="16" fill="#00ff7f"/>
<rect x="1097" y="290" width="3" height="12" fill="#00ff7f"/>
<rect x="1102" y="297" width="1" height="11" fill="#00ff7f"/>
<rect x="1101" y="299" width="3" height="3" fill="#00ff7f"/>
<rect x="1106" y="291" width="1" height="12" fill="#ff0000"/>
<rect x="1105" y="292" width="3" height="11" fill="#ff0000"/>
<rect x="1110" y="276" width="1" height="21" fill="#ff0000"/>
<rect x="1109" y="282" width="3" height="13" fill="#ff0000"/>
<rect x="1114" y="281" width="1" height="6" fill="#00ff7f"/>
<rect x="1113" y="282" width="3" height="4" fill="#00ff7f"/>
<rect x="1118" y="261" width="1" height="27" fill="#ff0000"/>
<rect x="1117" y="266" width="3" height="21" fill="#ff0000"/>
<rect x="1122" y="207" width="1" height="66" fill="#ff0000"/>
<rect x="1121" y="208" width="3" height="65" fill="#ff0000"/>
<rect x="1126" y="202" width="1" height="29" fill="#ff0000"/>
<rect x="1125" y="203" width="3" height="9" fill="#ff0000"/>
<rect x="1130" y="51" width="1" height="157" fill="#ff0000"/>
<rect x="1129" y="59" width="3" height="140" fill="#ff0000"/>
<rect x="1134" y="56" width="1" height="88" fill="#00ff7f"/>
<rect x="1133" y="59" width="3" height="75" fill="#00ff7f"/>
<rect x="1138" y="91" width="1" height="44" fill="#ff0000"/>
<rect x="1137" y="102" width="3" height="33" fill="#ff0000"/>
<rect x="1142" y="86" width="1" height="39" fill="#00ff7f"/>
<rect x="1141" y="102" width="3" height="3" fill="#00ff7f"/>
<rect x="1146" y="104" width="1" height="10" fill="#00ff7f"/>
<rect x="1145" y="104" width="3" height="7" fill="#00ff7f"/>
</g>
<polyline points="6.5,642.70 10.5,631.04 14.5,619.32 18.5,606.75 22.5,592.51 26.5,579.93 30.5,566.00 34.5,554.47 38.5,542.01 42.5,528.60 46.5,514.31 50.5,501.12 54.5,487.21 58.5,473.74 62.5,464.05 66.5,453.42 70.5,444.20 74.5,435.62 78.5,428.31 82.5,422.04 86.5,412.95 90.5,402.43 94.5,393.33 98.5,386.83 102.5,380.26 106.5,374.50 110.5,366.12 114.5,357.90 118.5,349.05 122.5,339.55 126.5,334.03 130.5,331.93 134.5,329.68 138.5,329.28 142.5,327.38 146.5,320.95 150.5,321.95 154.5,323.38 158.5,324.38 162.5,324.52 166.5,323.00 170.5,325.09 174.5,325.66 178.5,326.33 182.5,324.64 186.5,324.07 190.5,323.14 194.5,323.28 198.5,324.19 202.5,327.09 206.5,331.47 210.5,331.09 214.5,328.23 218.5,327.06 222.5,325.70 226.5,326.38 230.5,328.36 234.5,325.46 238.5,322.03 242.5,318.60 246.5,315.46 250.5,314.98 254.5,312.36 258.5,310.27 262.5,308.03 266.5,306.03 270.5,303.46 274.5,300.96 278.5,298.86 282.5,296.43 286.5,294.24 290.5,290.72 294.5,288.72 298.5,287.67 302.5,284.58 306.5,280.53 310.5,275.91 314.5,271.64 318.5,268.36 322.5,264.88 326.5,261.60 330.5,258.64 334.5,254.21 338.5,250.45 342.5,246.07 346.5,245.07 350.5,245.00 354.5,244.29 358.5,244.57 362.5,244.19 366.5,243.90 370.5,241.00 374.5,239.14 378.5,238.05 382.5,236.90 386.5,236.90 390.5,238.10 394.5,238.33 398.5,238.33 402.5,238.86 406.5,239.81 410.5,240.12 414.5,240.42 418.5,241.47 422.5,242.92 426.5,244.92 430.5,243.73 434.5,244.61 438.5,247.38 442.5,249.66 446.5,251.57 450.5,253.95 454.5,255.38 458.5,258.61 462.5,262.04 466.5,264.76 470.5,266.09 474.5,267.19 478.5,269.23 482.5,271.00 486.5,272.61 490.5,272.95 494.5,275.07 498.5,277.29 502.5,279.95 506.5,282.88 510.5,285.31 514.5,288.98 518.5,289.26 522.5,287.98 526.5,287.40 530.5,288.07 534.5,289.83 538.5,292.64 542.5,296.45 546.5,300.07 550.5,305.45 554.5,311.79 558.5,317.45 562.5,323.26 566.5,328.93 570.5,332.86 574.5,338.14 578.5,341.95 582.5,346.62 586.5,350.86 590.5,356.33 594.5,361.90 598.5,367.29 602.5,374.48 606.5,382.22 610.5,387.72 614.5,391.46 618.5,395.18 622.5,398.60 626.5,399.51 630.5,399.75 634.5,397.99 638.5,397.32 642.5,396.56 646.5,396.03 650.5,396.27 654.5,397.65 658.5,400.41 662.5,404.86 666.5,407.81 670.5,412.10 674.5,415.15 678.5,418.43 682.5,421.53 686.5,422.00 690.5,421.64 694.5,423.85 698.5,427.23 702.5,429.33 706.5,431.23 710.5,433.85 714.5,436.26 718.5,440.40 722.5,443.40 726.5,446.21 730.5,448.79 734.5,450.98 738.5,453.65 742.5,456.17 746.5,456.34 750.5,456.29 754.5,455.65 758.5,453.98 762.5,451.55 766.5,448.89 770.5,447.93 774.5,447.74 778.5,446.89 782.5,446.53 786.5,446.46 790.5,447.55 794.5,447.98 798.5,448.55 802.5,448.14 806.5,447.14 810.5,447.81 814.5,448.13 818.5,448.56 822.5,450.08 826.5,449.03 830.5,448.89 834.5,448.84 838.5,448.03 842.5,446.84 846.5,446.80 850.5,446.67 854.5,445.72 858.5,445.29 862.5,444.36 866.5,443.12 870.5,440.00 874.5,436.10 878.5,432.24 882.5,426.74 886.5,420.79 890.5,412.31 894.5,403.50 898.5,394.51 902.5,384.70 906.5,372.87 910.5,362.66 914.5,353.04 918.5,343.70 922.5,334.92 926.5,327.54 930.5,319.87 934.5,311.76 938.5,303.17 942.5,293.98 946.5,285.71 950.5,277.79 954.5,271.63 958.5,265.62 962.5,260.11 966.5,255.45 970.5,251.19 974.5,250.86 978.5,249.81 982.5,248.67 986.5,248.63 990.5,249.12 994.5,250.91 998.5,252.51 1002.5,255.84 1006.5,258.75 1010.5,260.20 1014.5,261.10 1018.5,262.87 1022.5,265.31 1026.5,268.17 1030.5,271.46 1034.5,272.95 1038.5,274.92 1042.5,277.31 1046.5,278.77 1050.5,281.25 1054.5,283.49 1058.5,285.72 1062.5,288.01 1066.5,290.30 1070.5,292.90 1074.5,295.31 1078.5,296.17 1082.5,296.95 1086.5,296.02 1090.5,295.26 1094.5,295.06 1098.5,295.77 1102.5,296.15 1106.5,295.77 1110.5,294.82 1114.5,293.39 1118.5,292.20 1122.5,288.04 1126.5,283.51 1130.5,272.99 1134.5,265.66 1138.5,257.13 1142.5,247.80 1146.5,238.88" fill="none" stroke="#ffff00" stroke-width="1" clip-path="url(#cm)" shape-rendering="crispEdges"/>
<polyline points="6.5,594.14 10.5,580.06 14.5,565.44 18.5,550.72 22.5,535.22 26.5,523.43 30.5,509.65 34.5,498.39 38.5,488.77 42.5,480.37 46.5,470.43 50.5,461.89 54.5,453.48 58.5,444.39 62.5,435.25 66.5,424.32 70.5,413.39 74.5,403.75 78.5,397.04 82.5,386.96 86.5,376.00 90.5,366.07 94.5,357.04 98.5,352.79 102.5,349.65 106.5,345.29 110.5,341.79 114.5,335.89 118.5,325.89 122.5,317.96 126.5,315.11 130.5,314.89 134.5,313.94 138.5,314.34 142.5,316.03 146.5,313.03 150.5,317.24 154.5,318.21 158.5,319.92 162.5,322.06 166.5,322.28 170.5,326.78 174.5,330.99 178.5,337.21 182.5,338.71 186.5,337.85 190.5,335.48 194.5,332.80 198.5,331.11 202.5,335.11 206.5,332.25 210.5,326.68 214.5,320.68 218.5,317.75 222.5,318.39 226.5,317.96 230.5,317.08 234.5,315.94 238.5,314.29 242.5,311.72 246.5,310.54 250.5,309.83 254.5,309.04 258.5,305.76 262.5,302.04 266.5,301.11 270.5,300.69 274.5,296.33 278.5,292.54 282.5,286.19 286.5,283.93 290.5,280.14 294.5,276.71 298.5,274.29 302.5,271.43 306.5,266.71 310.5,263.29 314.5,259.14 318.5,256.43 322.5,252.57 326.5,248.93 330.5,247.07 334.5,242.86 338.5,240.07 342.5,233.50 346.5,233.57 350.5,235.54 354.5,235.61 358.5,236.32 362.5,238.04 366.5,238.18 370.5,237.96 374.5,236.32 378.5,236.46 382.5,237.25 386.5,238.82 390.5,242.54 394.5,245.11 398.5,247.54 402.5,247.11 406.5,244.79 410.5,242.68 414.5,240.85 418.5,238.78 422.5,238.60 426.5,239.39 430.5,240.46 434.5,245.39 438.5,251.31 442.5,255.46 446.5,258.24 450.5,261.60 454.5,263.53 458.5,265.96 462.5,269.81 466.5,274.21 470.5,277.32 474.5,281.11 478.5,284.57 482.5,286.64 486.5,290.43 490.5,287.29 494.5,284.21 498.5,282.29 502.5,281.36 506.5,282.00 510.5,284.29 514.5,286.00 518.5,286.21 522.5,286.14 526.5,287.43 530.5,289.57 534.5,292.50 538.5,296.00 542.5,301.71 546.5,310.50 550.5,319.79 554.5,329.07 558.5,337.36 562.5,345.14 566.5,352.07 570.5,356.25 574.5,360.61 578.5,365.18 582.5,371.11 586.5,375.54 590.5,381.75 594.5,388.18 598.5,392.25 602.5,397.82 606.5,401.29 610.5,401.34 614.5,400.59 618.5,400.37 622.5,400.51 626.5,401.69 630.5,402.91 634.5,403.84 638.5,405.12 642.5,405.91 646.5,404.69 650.5,403.62 654.5,401.79 658.5,399.51 662.5,399.14 666.5,401.24 670.5,406.49 674.5,411.71 678.5,417.92 682.5,425.28 686.5,431.21 690.5,436.78 694.5,441.14 698.5,446.60 702.5,450.31 706.5,452.96 710.5,456.00 714.5,456.69 718.5,457.15 722.5,458.51 726.5,457.08 730.5,455.15 734.5,452.44 738.5,449.97 742.5,450.76 746.5,451.19 750.5,449.90 754.5,449.11 758.5,448.69 762.5,448.40 766.5,447.83 770.5,448.71 774.5,447.79 778.5,446.36 782.5,447.07 786.5,446.82 790.5,447.82 794.5,447.50 798.5,445.25 802.5,444.86 806.5,444.79 810.5,445.32 814.5,446.37 818.5,447.94 822.5,451.76 826.5,452.41 830.5,452.91 834.5,452.84 838.5,451.37 842.5,449.26 846.5,447.26 850.5,445.86 854.5,444.47 858.5,443.51 862.5,442.19 866.5,440.04 870.5,434.64 874.5,429.14 878.5,420.74 882.5,411.81 886.5,402.70 890.5,389.99 894.5,378.52 898.5,367.88 902.5,354.81 906.5,341.06 910.5,327.81 914.5,314.53 918.5,301.85 922.5,289.06 926.5,280.56 930.5,272.92 934.5,265.14 938.5,259.11 942.5,253.29 946.5,252.29 950.5,251.48 954.5,250.31 958.5,250.51 962.5,251.61 966.5,251.00 970.5,249.93 974.5,250.71 978.5,250.86 982.5,249.57 986.5,247.95 990.5,247.11 994.5,249.43 998.5,252.33 1002.5,257.04 1006.5,260.50 1010.5,263.41 1014.5,266.15 1018.5,269.26 1022.5,273.91 1026.5,278.76 1030.5,283.19 1034.5,286.19 1038.5,289.69 1042.5,293.53 1046.5,296.08 1050.5,296.51 1054.5,296.39 1058.5,295.54 1062.5,294.75 1066.5,294.71 1070.5,295.64 1074.5,295.79 1078.5,295.71 1082.5,295.50 1086.5,293.89 1090.5,293.96 1094.5,293.62 1098.5,293.84 1102.5,295.34 1106.5,295.69 1110.5,295.76 1114.5,294.69 1118.5,292.48 1122.5,286.31 1126.5,279.45 1130.5,262.59 1134.5,250.74 1138.5,236.66 1142.5,223.21 1146.5,210.18" fill="none" stroke="#ff0000" stroke-width="1" clip-path="url(#cm)" shape-rendering="crispEdges"/>
<polyline points="6.5,521.65 10.5,511.62 14.5,505.82 18.5,499.37 22.5,490.86 26.5,492.19 30.5,486.86 34.5,475.14 38.5,465.91 42.5,454.91 46.5,441.49 50.5,432.91 54.5,414.77 58.5,401.93 62.5,395.36 66.5,382.73 70.5,371.87 74.5,366.01 78.5,361.16 82.5,359.16 86.5,350.07 90.5,336.79 94.5,331.36 98.5,333.71 102.5,333.29 106.5,329.43 110.5,324.43 114.5,321.71 118.5,315.00 122.5,304.57 126.5,296.50 130.5,296.50 134.5,298.46 138.5,304.24 142.5,310.34 146.5,311.06 150.5,329.91 154.5,339.91 158.5,343.34 162.5,345.67 166.5,340.31 170.5,343.21 174.5,350.93 178.5,344.50 182.5,337.50 186.5,332.36 190.5,325.29 194.5,325.29 198.5,319.00 202.5,319.29 206.5,320.00 210.5,315.86 214.5,309.00 218.5,310.21 222.5,311.50 226.5,316.93 230.5,314.87 234.5,311.87 238.5,312.73 242.5,314.44 246.5,310.87 250.5,308.16 254.5,301.16 258.5,296.64 262.5,292.21 266.5,289.50 270.5,286.93 274.5,281.79 278.5,276.93 282.5,271.21 286.5,271.21 290.5,268.07 294.5,263.93 298.5,261.64 302.5,261.07 306.5,256.50 310.5,255.36 314.5,247.07 318.5,244.79 322.5,241.21 326.5,236.21 330.5,233.07 334.5,229.21 338.5,224.79 342.5,219.93 346.5,222.36 350.5,229.86 354.5,235.00 358.5,239.57 362.5,246.86 366.5,251.57 370.5,256.00 374.5,250.29 378.5,243.07 382.5,239.50 386.5,238.07 390.5,238.21 394.5,238.64 398.5,239.07 402.5,243.93 406.5,246.50 410.5,245.86 414.5,243.63 418.5,239.34 422.5,238.56 426.5,239.70 430.5,236.99 434.5,244.27 438.5,256.77 442.5,267.29 446.5,277.14 450.5,284.64 454.5,287.36 458.5,294.93 462.5,295.36 466.5,291.64 470.5,287.36 474.5,285.07 478.5,284.50 482.5,285.93 486.5,285.93 490.5,279.21 494.5,276.79 498.5,277.21 502.5,277.64 506.5,279.50 510.5,282.64 514.5,286.07 518.5,293.21 522.5,295.50 526.5,297.64 530.5,301.50 534.5,305.50 538.5,309.36 542.5,317.36 546.5,327.79 550.5,344.07 554.5,360.50 558.5,373.21 562.5,384.79 566.5,394.79 570.5,395.14 574.5,393.43 578.5,386.29 582.5,381.71 586.5,377.86 590.5,378.71 594.5,381.57 598.5,389.36 602.5,402.21 606.5,416.30 610.5,420.96 614.5,423.31 618.5,422.03 622.5,419.46 626.5,414.03 630.5,403.60 634.5,391.37 638.5,389.29 642.5,388.50 646.5,387.36 650.5,387.79 654.5,389.56 658.5,395.41 662.5,406.91 666.5,413.20 670.5,424.49 674.5,436.06 678.5,448.06 682.5,461.00 686.5,467.00 690.5,466.64 694.5,469.07 698.5,468.71 702.5,464.57 706.5,457.86 710.5,451.00 714.5,446.37 718.5,447.66 722.5,447.94 726.5,445.44 730.5,445.73 734.5,447.01 738.5,448.94 742.5,455.14 746.5,454.71 750.5,451.86 754.5,452.79 758.5,451.64 762.5,449.79 766.5,446.71 770.5,442.29 774.5,440.86 778.5,440.86 782.5,441.36 786.5,442.00 790.5,445.86 794.5,448.29 798.5,448.21 802.5,448.86 806.5,448.71 810.5,449.29 814.5,450.74 818.5,450.03 822.5,455.24 826.5,456.60 830.5,456.96 834.5,456.96 838.5,453.46 842.5,447.79 846.5,444.50 850.5,436.49 854.5,432.34 858.5,430.06 862.5,427.41 866.5,426.63 870.5,421.49 874.5,413.77 878.5,405.00 882.5,391.29 886.5,375.34 890.5,352.56 894.5,330.41 898.5,314.27 902.5,295.84 906.5,277.13 910.5,264.34 914.5,253.71 918.5,251.14 922.5,247.71 926.5,246.86 930.5,250.00 934.5,253.14 938.5,253.87 942.5,252.87 946.5,253.44 950.5,255.24 954.5,253.77 958.5,251.01 962.5,250.07 966.5,248.13 970.5,246.99 974.5,247.99 978.5,246.47 982.5,245.37 986.5,244.89 990.5,244.16 994.5,250.73 998.5,257.67 1002.5,266.10 1006.5,274.53 1010.5,281.46 1014.5,287.41 1018.5,294.37 1022.5,297.09 1026.5,299.86 1030.5,300.29 1034.5,297.86 1038.5,297.93 1042.5,299.64 1046.5,297.79 1050.5,295.93 1054.5,292.93 1058.5,290.79 1062.5,291.64 1066.5,291.50 1070.5,291.64 1074.5,293.79 1078.5,295.50 1082.5,298.07 1086.5,296.99 1090.5,296.27 1094.5,295.74 1098.5,296.03 1102.5,296.89 1106.5,295.89 1110.5,293.46 1114.5,292.40 1118.5,288.69 1122.5,276.87 1126.5,262.87 1130.5,228.30 1134.5,205.59 1138.5,179.87 1142.5,154.01 1146.5,131.67" fill="none" stroke="#0000cd" stroke-width="1" clip-path="url(#cm)" shape-rendering="crispEdges"/>
<rect x="230" y="109" width="1191" height="1" fill="#c0c0c0"/>
<g shape-rendering="crispEdges">
<rect x="6" y="80" width="1415" height="3" fill="#ff0000"/>
<rect x="5" y="78" width="7" height="7" fill="#ff0000"/>
<rect x="8" y="81" width="1" height="1" fill="#ffffff"/>
<rect x="1415" y="78" width="7" height="7" fill="#ff0000"/>
<rect x="1418" y="81" width="1" height="1" fill="#ffffff"/>
<rect x="6" y="179" width="1415" height="3" fill="#00ff00"/>
<rect x="5" y="177" width="7" height="7" fill="#00ff00"/>
<rect x="8" y="180" width="1" height="1" fill="#ffffff"/>
<rect x="1415" y="177" width="7" height="7" fill="#00ff00"/>
<rect x="1418" y="180" width="1" height="1" fill="#ffffff"/>
<rect x="6" y="273" width="1415" height="3" fill="#0000cd"/>
<rect x="5" y="271" width="7" height="7" fill="#0000cd"/>
<rect x="8" y="274" width="1" height="1" fill="#ffffff"/>
<rect x="1415" y="271" width="7" height="7" fill="#0000cd"/>
<rect x="1418" y="274" width="1" height="1" fill="#ffffff"/>
<rect x="6" y="348" width="1415" height="3" fill="#0000cd"/>
</g>
<polygon points="1132,25 1141,25 1136.5,30" fill="#c0c0c0"/>
<g clip-path="url(#cmacd)" shape-rendering="crispEdges">
<rect x="6" y="578" width="1" height="57" fill="#c0c0c0"/>
<rect x="10" y="578" width="1" height="57" fill="#c0c0c0"/>
<rect x="14" y="578" width="1" height="57" fill="#c0c0c0"/>
<rect x="18" y="578" width="1" height="57" fill="#c0c0c0"/>
<rect x="22" y="578" width="1" height="57" fill="#c0c0c0"/>
<rect x="26" y="578" width="1" height="57" fill="#c0c0c0"/>
<rect x="30" y="578" width="1" height="57" fill="#c0c0c0"/>
<rect x="34" y="578" width="1" height="57" fill="#c0c0c0"/>
<rect x="38" y="578" width="1" height="57" fill="#c0c0c0"/>
<rect x="42" y="578" width="1" height="57" fill="#c0c0c0"/>
<rect x="46" y="578" width="1" height="57" fill="#c0c0c0"/>
<rect x="50" y="578" width="1" height="57" fill="#c0c0c0"/>
<rect x="54" y="578" width="1" height="57" fill="#c0c0c0"/>
<rect x="58" y="578" width="1" height="57" fill="#c0c0c0"/>
<rect x="62" y="578" width="1" height="57" fill="#c0c0c0"/>
<rect x="66" y="578" width="1" height="57" fill="#c0c0c0"/>
<rect x="70" y="578" width="1" height="57" fill="#c0c0c0"/>
<rect x="74" y="578" width="1" height="57" fill="#c0c0c0"/>
<rect x="78" y="578" width="1" height="57" fill="#c0c0c0"/>
<rect x="82" y="578" width="1" height="57" fill="#c0c0c0"/>
<rect x="86" y="578" width="1" height="57" fill="#c0c0c0"/>
<rect x="90" y="578" width="1" height="57" fill="#c0c0c0"/>
<rect x="94" y="578" width="1" height="57" fill="#c0c0c0"/>
<rect x="98" y="583" width="1" height="52" fill="#c0c0c0"/>
<rect x="102" y="586" width="1" height="49" fill="#c0c0c0"/>
<rect x="106" y="588" width="1" height="47" fill="#c0c0c0"/>
<rect x="110" y="588" width="1" height="47" fill="#c0c0c0"/>
<rect x="114" y="587" width="1" height="48" fill="#c0c0c0"/>
<rect x="118" y="587" width="1" height="48" fill="#c0c0c0"/>
<rect x="122" y="585" width="1" height="50" fill="#c0c0c0"/>
<rect x="126" y="588" width="1" height="47" fill="#c0c0c0"/>
<rect x="130" y="594" width="1" height="41" fill="#c0c0c0"/>
<rect x="134" y="598" width="1" height="37" fill="#c0c0c0"/>
<rect x="138" y="603" width="1" height="32" fill="#c0c0c0"/>
<rect x="142" y="605" width="1" height="30" fill="#c0c0c0"/>
<rect x="146" y="605" width="1" height="30" fill="#c0c0c0"/>
<rect x="150" y="610" width="1" height="25" fill="#c0c0c0"/>
<rect x="154" y="615" width="1" height="20" fill="#c0c0c0"/>
<rect x="158" y="619" width="1" height="16" fill="#c0c0c0"/>
<rect x="162" y="621" width="1" height="14" fill="#c0c0c0"/>
<rect x="166" y="620" width="1" height="15" fill="#c0c0c0"/>
<rect x="170" y="622" width="1" height="13" fill="#c0c0c0"/>
<rect x="174" y="623" width="1" height="12" fill="#c0c0c0"/>
<rect x="178" y="623" width="1" height="12" fill="#c0c0c0"/>
<rect x="182" y="623" width="1" height="12" fill="#c0c0c0"/>
<rect x="186" y="624" width="1" height="11" fill="#c0c0c0"/>
<rect x="190" y="623" width="1" height="12" fill="#c0c0c0"/>
<rect x="194" y="622" width="1" height="13" fill="#c0c0c0"/>
<rect x="198" y="621" width="1" height="14" fill="#c0c0c0"/>
<rect x="202" y="623" width="1" height="12" fill="#c0c0c0"/>
<rect x="206" y="624" width="1" height="11" fill="#c0c0c0"/>
<rect x="210" y="623" width="1" height="12" fill="#c0c0c0"/>
<rect x="214" y="621" width="1" height="14" fill="#c0c0c0"/>
<rect x="218" y="622" width="1" height="13" fill="#c0c0c0"/>
<rect x="222" y="623" width="1" height="12" fill="#c0c0c0"/>
<rect x="226" y="626" width="1" height="9" fill="#c0c0c0"/>
<rect x="230" y="627" width="1" height="8" fill="#c0c0c0"/>
<rect x="234" y="626" width="1" height="9" fill="#c0c0c0"/>
<rect x="238" y="626" width="1" height="9" fill="#c0c0c0"/>
<rect x="242" y="625" width="1" height="10" fill="#c0c0c0"/>
<rect x="246" y="624" width="1" height="11" fill="#c0c0c0"/>
<rect x="250" y="624" width="1" height="11" fill="#c0c0c0"/>
<rect x="254" y="624" width="1" height="11" fill="#c0c0c0"/>
<rect x="258" y="624" width="1" height="11" fill="#c0c0c0"/>
<rect x="262" y="623" width="1" height="12" fill="#c0c0c0"/>
<rect x="266" y="623" width="1" height="12" fill="#c0c0c0"/>
<rect x="270" y="622" width="1" height="13" fill="#c0c0c0"/>
<rect x="274" y="620" width="1" height="15" fill="#c0c0c0"/>
<rect x="278" y="620" width="1" height="15" fill="#c0c0c0"/>
<rect x="282" y="618" width="1" height="17" fill="#c0c0c0"/>
<rect x="286" y="621" width="1" height="14" fill="#c0c0c0"/>
<rect x="290" y="620" width="1" height="15" fill="#c0c0c0"/>
<rect x="294" y="620" width="1" height="15" fill="#c0c0c0"/>
<rect x="298" y="620" width="1" height="15" fill="#c0c0c0"/>
<rect x="302" y="619" width="1" height="16" fill="#c0c0c0"/>
<rect x="306" y="618" width="1" height="17" fill="#c0c0c0"/>
<rect x="310" y="618" width="1" height="17" fill="#c0c0c0"/>
<rect x="314" y="617" width="1" height="18" fill="#c0c0c0"/>
<rect x="318" y="617" width="1" height="18" fill="#c0c0c0"/>
<rect x="322" y="617" width="1" height="18" fill="#c0c0c0"/>
<rect x="326" y="617" width="1" height="18" fill="#c0c0c0"/>
<rect x="330" y="617" width="1" height="18" fill="#c0c0c0"/>
<rect x="334" y="616" width="1" height="19" fill="#c0c0c0"/>
<rect x="338" y="615" width="1" height="20" fill="#c0c0c0"/>
<rect x="342" y="614" width="1" height="21" fill="#c0c0c0"/>
<rect x="346" y="618" width="1" height="17" fill="#c0c0c0"/>
<rect x="350" y="622" width="1" height="13" fill="#c0c0c0"/>
<rect x="354" y="625" width="1" height="10" fill="#c0c0c0"/>
<rect x="358" y="626" width="1" height="9" fill="#c0c0c0"/>
<rect x="362" y="628" width="1" height="7" fill="#c0c0c0"/>
<rect x="366" y="628" width="1" height="7" fill="#c0c0c0"/>
<rect x="370" y="627" width="1" height="8" fill="#c0c0c0"/>
<rect x="374" y="626" width="1" height="9" fill="#c0c0c0"/>
<rect x="378" y="626" width="1" height="9" fill="#c0c0c0"/>
<rect x="382" y="626" width="1" height="9" fill="#c0c0c0"/>
<rect x="386" y="628" width="1" height="7" fill="#c0c0c0"/>
<rect x="390" y="629" width="1" height="6" fill="#c0c0c0"/>
<rect x="394" y="630" width="1" height="5" fill="#c0c0c0"/>
<rect x="398" y="630" width="1" height="5" fill="#c0c0c0"/>
<rect x="402" y="630" width="1" height="5" fill="#c0c0c0"/>
<rect x="406" y="631" width="1" height="4" fill="#c0c0c0"/>
<rect x="410" y="631" width="1" height="4" fill="#c0c0c0"/>
<rect x="414" y="630" width="1" height="5" fill="#c0c0c0"/>
<rect x="418" y="630" width="1" height="5" fill="#c0c0c0"/>
<rect x="422" y="630" width="1" height="5" fill="#c0c0c0"/>
<rect x="426" y="631" width="1" height="4" fill="#c0c0c0"/>
<rect x="430" y="630" width="1" height="5" fill="#c0c0c0"/>
<rect x="434" y="634" width="1" height="2" fill="#c0c0c0"/>
<rect x="438" y="634" width="1" height="7" fill="#c0c0c0"/>
<rect x="442" y="634" width="1" height="9" fill="#c0c0c0"/>
<rect x="446" y="634" width="1" height="11" fill="#c0c0c0"/>
<rect x="450" y="634" width="1" height="11" fill="#c0c0c0"/>
<rect x="454" y="634" width="1" height="10" fill="#c0c0c0"/>
<rect x="458" y="634" width="1" height="10" fill="#c0c0c0"/>
<rect x="462" y="634" width="1" height="11" fill="#c0c0c0"/>
<rect x="466" y="634" width="1" height="12" fill="#c0c0c0"/>
<rect x="470" y="634" width="1" height="11" fill="#c0c0c0"/>
<rect x="474" y="634" width="1" height="10" fill="#c0c0c0"/>
<rect x="478" y="634" width="1" height="10" fill="#c0c0c0"/>
<rect x="482" y="634" width="1" height="8" fill="#c0c0c0"/>
<rect x="486" y="634" width="1" height="8" fill="#c0c0c0"/>
<rect x="490" y="634" width="1" height="6" fill="#c0c0c0"/>
<rect x="494" y="634" width="1" height="6" fill="#c0c0c0"/>
<rect x="498" y="634" width="1" height="5" fill="#c0c0c0"/>
<rect x="502" y="634" width="1" height="6" fill="#c0c0c0"/>
<rect x="506" y="634" width="1" height="7" fill="#c0c0c0"/>
<rect x="510" y="634" width="1" height="7" fill="#c0c0c0"/>
<rect x="514" y="634" width="1" height="8" fill="#c0c0c0"/>
<rect x="518" y="634" width="1" height="9" fill="#c0c0c0"/>
<rect x="522" y="634" width="1" height="9" fill="#c0c0c0"/>
<rect x="526" y="634" width="1" height="8" fill="#c0c0c0"/>
<rect x="530" y="634" width="1" height="9" fill="#c0c0c0"/>
<rect x="534" y="634" width="1" height="11" fill="#c0c0c0"/>
<rect x="538" y="634" width="1" height="11" fill="#c0c0c0"/>
<rect x="542" y="634" width="1" height="15" fill="#c0c0c0"/>
<rect x="546" y="634" width="1" height="18" fill="#c0c0c0"/>
<rect x="550" y="634" width="1" height="23" fill="#c0c0c0"/>
<rect x="554" y="634" width="1" height="26" fill="#c0c0c0"/>
<rect x="558" y="634" width="1" height="28" fill="#c0c0c0"/>
<rect x="562" y="634" width="1" height="29" fill="#c0c0c0"/>
<rect x="566" y="634" width="1" height="29" fill="#c0c0c0"/>
<rect x="570" y="634" width="1" height="27" fill="#c0c0c0"/>
<rect x="574" y="634" width="1" height="25" fill="#c0c0c0"/>
<rect x="578" y="634" width="1" height="23" fill="#c0c0c0"/>
<rect x="582" y="634" width="1" height="22" fill="#c0c0c0"/>
<rect x="586" y="634" width="1" height="21" fill="#c0c0c0"/>
<rect x="590" y="634" width="1" height="22" fill="#c0c0c0"/>
<rect x="594" y="634" width="1" height="23" fill="#c0c0c0"/>
<rect x="598" y="634" width="1" height="24" fill="#c0c0c0"/>
<rect x="602" y="634" width="1" height="27" fill="#c0c0c0"/>
<rect x="606" y="634" width="1" height="29" fill="#c0c0c0"/>
<rect x="610" y="634" width="1" height="27" fill="#c0c0c0"/>
<rect x="614" y="634" width="1" height="24" fill="#c0c0c0"/>
<rect x="618" y="634" width="1" height="22" fill="#c0c0c0"/>
<rect x="622" y="634" width="1" height="20" fill="#c0c0c0"/>
<rect x="626" y="634" width="1" height="17" fill="#c0c0c0"/>
<rect x="630" y="634" width="1" height="15" fill="#c0c0c0"/>
<rect x="634" y="634" width="1" height="12" fill="#c0c0c0"/>
<rect x="638" y="634" width="1" height="12" fill="#c0c0c0"/>
<rect x="642" y="634" width="1" height="10" fill="#c0c0c0"/>
<rect x="646" y="634" width="1" height="10" fill="#c0c0c0"/>
<rect x="650" y="634" width="1" height="9" fill="#c0c0c0"/>
<rect x="654" y="634" width="1" height="9" fill="#c0c0c0"/>
<rect x="658" y="634" width="1" height="10" fill="#c0c0c0"/>
<rect x="662" y="634" width="1" height="13" fill="#c0c0c0"/>
<rect x="666" y="634" width="1" height="15" fill="#c0c0c0"/>
<rect x="670" y="634" width="1" height="17" fill="#c0c0c0"/>
<rect x="674" y="634" width="1" height="20" fill="#c0c0c0"/>
<rect x="678" y="634" width="1" height="22" fill="#c0c0c0"/>
<rect x="682" y="634" width="1" height="24" fill="#c0c0c0"/>
<rect x="686" y="634" width="1" height="24" fill="#c0c0c0"/>
<rect x="690" y="634" width="1" height="22" fill="#c0c0c0"/>
<rect x="694" y="634" width="1" height="21" fill="#c0c0c0"/>
<rect x="698" y="634" width="1" height="20" fill="#c0c0c0"/>
<rect x="702" y="634" width="1" height="19" fill="#c0c0c0"/>
<rect x="706" y="634" width="1" height="16" fill="#c0c0c0"/>
<rect x="710" y="634" width="1" height="14" fill="#c0c0c0"/>
<rect x="714" y="634" width="1" height="13" fill="#c0c0c0"/>
<rect x="718" y="634" width="1" height="13" fill="#c0c0c0"/>
<rect x="722" y="634" width="1" height="13" fill="#c0c0c0"/>
<rect x="726" y="634" width="1" height="11" fill="#c0c0c0"/>
<rect x="730" y="634" width="1" height="11" fill="#c0c0c0"/>
<rect x="734" y="634" width="1" height="10" fill="#c0c0c0"/>
<rect x="738" y="634" width="1" height="9" fill="#c0c0c0"/>
<rect x="742" y="634" width="1" height="11" fill="#c0c0c0"/>
<rect x="746" y="634" width="1" height="10" fill="#c0c0c0"/>
<rect x="750" y="634" width="1" height="9" fill="#c0c0c0"/>
<rect x="754" y="634" width="1" height="8" fill="#c0c0c0"/>
<rect x="758" y="634" width="1" height="7" fill="#c0c0c0"/>
<rect x="762" y="634" width="1" height="5" fill="#c0c0c0"/>
<rect x="766" y="634" width="1" height="4" fill="#c0c0c0"/>
<rect x="770" y="634" width="1" height="4" fill="#c0c0c0"/>
<rect x="774" y="634" width="1" height="4" fill="#c0c0c0"/>
<rect x="778" y="634" width="1" height="3" fill="#c0c0c0"/>
<rect x="782" y="634" width="1" height="3" fill="#c0c0c0"/>
<rect x="786" y="634" width="1" height="3" fill="#c0c0c0"/>
<rect x="790" y="634" width="1" height="4" fill="#c0c0c0"/>
<rect x="794" y="634" width="1" height="4" fill="#c0c0c0"/>
<rect x="798" y="634" width="1" height="4" fill="#c0c0c0"/>
<rect x="802" y="634" width="1" height="4" fill="#c0c0c0"/>
<rect x="806" y="634" width="1" height="3" fill="#c0c0c0"/>
<rect x="810" y="634" width="1" height="3" fill="#c0c0c0"/>
<rect x="814" y="634" width="1" height="4" fill="#c0c0c0"/>
<rect x="818" y="634" width="1" height="4" fill="#c0c0c0"/>
<rect x="822" y="634" width="1" height="6" fill="#c0c0c0"/>
<rect x="826" y="634" width="1" height="6" fill="#c0c0c0"/>
<rect x="830" y="634" width="1" height="5" fill="#c0c0c0"/>
<rect x="834" y="634" width="1" height="4" fill="#c0c0c0"/>
<rect x="838" y="634" width="1" height="2" fill="#c0c0c0"/>
<rect x="842" y="633" width="1" height="2" fill="#c0c0c0"/>
<rect x="846" y="632" width="1" height="3" fill="#c0c0c0"/>
<rect x="850" y="631" width="1" height="4" fill="#c0c0c0"/>
<rect x="854" y="631" width="1" height="4" fill="#c0c0c0"/>
<rect x="858" y="631" width="1" height="4" fill="#c0c0c0"/>
<rect x="862" y="630" width="1" height="5" fill="#c0c0c0"/>
<rect x="866" y="629" width="1" height="6" fill="#c0c0c0"/>
<rect x="870" y="626" width="1" height="9" fill="#c0c0c0"/>
<rect x="874" y="624" width="1" height="11" fill="#c0c0c0"/>
<rect x="878" y="621" width="1" height="14" fill="#c0c0c0"/>
<rect x="882" y="617" width="1" height="18" fill="#c0c0c0"/>
<rect x="886" y="613" width="1" height="22" fill="#c0c0c0"/>
<rect x="890" y="606" width="1" height="29" fill="#c0c0c0"/>
<rect x="894" y="602" width="1" height="33" fill="#c0c0c0"/>
<rect x="898" y="598" width="1" height="37" fill="#c0c0c0"/>
<rect x="902" y="595" width="1" height="40" fill="#c0c0c0"/>
<rect x="906" y="591" width="1" height="44" fill="#c0c0c0"/>
<rect x="910" y="590" width="1" height="45" fill="#c0c0c0"/>
<rect x="914" y="590" width="1" height="45" fill="#c0c0c0"/>
<rect x="918" y="590" width="1" height="45" fill="#c0c0c0"/>
<rect x="922" y="590" width="1" height="45" fill="#c0c0c0"/>
<rect x="926" y="593" width="1" height="42" fill="#c0c0c0"/>
<rect x="930" y="595" width="1" height="40" fill="#c0c0c0"/>
<rect x="934" y="597" width="1" height="38" fill="#c0c0c0"/>
<rect x="938" y="598" width="1" height="37" fill="#c0c0c0"/>
<rect x="942" y="599" width="1" height="36" fill="#c0c0c0"/>
<rect x="946" y="600" width="1" height="35" fill="#c0c0c0"/>
<rect x="950" y="602" width="1" height="33" fill="#c0c0c0"/>
<rect x="954" y="604" width="1" height="31" fill="#c0c0c0"/>
<rect x="958" y="606" width="1" height="29" fill="#c0c0c0"/>
<rect x="962" y="607" width="1" height="28" fill="#c0c0c0"/>
<rect x="966" y="608" width="1" height="27" fill="#c0c0c0"/>
<rect x="970" y="608" width="1" height="27" fill="#c0c0c0"/>
<rect x="974" y="610" width="1" height="25" fill="#c0c0c0"/>
<rect x="978" y="612" width="1" height="23" fill="#c0c0c0"/>
<rect x="982" y="613" width="1" height="22" fill="#c0c0c0"/>
<rect x="986" y="614" width="1" height="21" fill="#c0c0c0"/>
<rect x="990" y="616" width="1" height="19" fill="#c0c0c0"/>
<rect x="994" y="619" width="1" height="16" fill="#c0c0c0"/>
<rect x="998" y="622" width="1" height="13" fill="#c0c0c0"/>
<rect x="1002" y="627" width="1" height="8" fill="#c0c0c0"/>
<rect x="1006" y="630" width="1" height="5" fill="#c0c0c0"/>
<rect x="1010" y="632" width="1" height="3" fill="#c0c0c0"/>
<rect x="1014" y="633" width="1" height="2" fill="#c0c0c0"/>
<rect x="1018" y="634" width="1" height="1" fill="#c0c0c0"/>
<rect x="1022" y="634" width="1" height="2" fill="#c0c0c0"/>
<rect x="1026" y="634" width="1" height="3" fill="#c0c0c0"/>
<rect x="1030" y="634" width="1" height="5" fill="#c0c0c0"/>
<rect x="1034" y="634" width="1" height="5" fill="#c0c0c0"/>
<rect x="1038" y="634" width="1" height="5" fill="#c0c0c0"/>
<rect x="1042" y="634" width="1" height="5" fill="#c0c0c0"/>
<rect x="1046" y="634" width="1" height="4" fill="#c0c0c0"/>
<rect x="1050" y="634" width="1" height="4" fill="#c0c0c0"/>
<rect x="1054" y="634" width="1" height="3" fill="#c0c0c0"/>
<rect x="1058" y="634" width="1" height="3" fill="#c0c0c0"/>
<rect x="1062" y="634" width="1" height="4" fill="#c0c0c0"/>
<rect x="1066" y="634" width="1" height="4" fill="#c0c0c0"/>
<rect x="1070" y="634" width="1" height="4" fill="#c0c0c0"/>
<rect x="1074" y="634" width="1" height="4" fill="#c0c0c0"/>
<rect x="1078" y="634" width="1" height="4" fill="#c0c0c0"/>
<rect x="1082" y="634" width="1" height="4" fill="#c0c0c0"/>
<rect x="1086" y="634" width="1" height="4" fill="#c0c0c0"/>
<rect x="1090" y="634" width="1" height="3" fill="#c0c0c0"/>
<rect x="1094" y="634" width="1" height="3" fill="#c0c0c0"/>
<rect x="1098" y="634" width="1" height="3" fill="#c0c0c0"/>
<rect x="1102" y="634" width="1" height="4" fill="#c0c0c0"/>
<rect x="1106" y="634" width="1" height="3" fill="#c0c0c0"/>
<rect x="1110" y="634" width="1" height="2" fill="#c0c0c0"/>
<rect x="1114" y="634" width="1" height="1" fill="#c0c0c0"/>
<rect x="1118" y="633" width="1" height="2" fill="#c0c0c0"/>
<rect x="1122" y="627" width="1" height="8" fill="#c0c0c0"/>
<rect x="1126" y="623" width="1" height="12" fill="#c0c0c0"/>
<rect x="1130" y="610" width="1" height="25" fill="#c0c0c0"/>
<rect x="1134" y="605" width="1" height="30" fill="#c0c0c0"/>
<rect x="1138" y="599" width="1" height="36" fill="#c0c0c0"/>
<rect x="1142" y="596" width="1" height="39" fill="#c0c0c0"/>
<rect x="1146" y="593" width="1" height="42" fill="#c0c0c0"/>
</g>
<polyline points="6.5,590.01 10.5,586.75 14.5,583.83 18.5,581.45 22.5,579.49 26.5,578.24 30.5,577.50 34.5,577.52 38.5,577.78 42.5,577.70 46.5,577.44 50.5,577.04 54.5,576.44 58.5,575.99 62.5,575.84 66.5,575.61 70.5,575.22 74.5,574.91 78.5,574.83 82.5,575.10 86.5,575.33 90.5,575.96 94.5,576.73 98.5,577.58 102.5,578.86 106.5,580.35 110.5,581.82 114.5,583.03 118.5,584.09 122.5,585.04 126.5,586.21 130.5,587.92 134.5,589.62 138.5,591.48 142.5,593.41 146.5,595.22 150.5,597.75 154.5,600.88 158.5,604.70 162.5,608.40 166.5,611.33 170.5,613.92 174.5,616.12 178.5,618.06 182.5,620.10 186.5,621.58 190.5,622.36 194.5,622.67 198.5,622.62 202.5,622.95 206.5,623.24 210.5,623.30 214.5,623.17 218.5,623.11 222.5,623.08 226.5,623.42 230.5,623.93 234.5,624.52 238.5,624.84 242.5,624.95 246.5,625.08 250.5,625.40 254.5,625.55 258.5,625.59 262.5,625.28 266.5,624.84 270.5,624.38 274.5,623.76 278.5,623.16 282.5,622.51 286.5,622.09 290.5,621.67 294.5,621.20 298.5,620.87 302.5,620.50 306.5,620.04 310.5,619.73 314.5,619.44 318.5,619.32 322.5,618.94 326.5,618.60 330.5,618.31 334.5,617.84 338.5,617.36 342.5,616.94 346.5,616.94 350.5,617.49 354.5,618.31 358.5,619.34 362.5,620.54 366.5,621.75 370.5,623.04 374.5,624.23 378.5,625.53 382.5,626.51 386.5,627.11 390.5,627.63 394.5,628.00 398.5,628.21 402.5,628.50 406.5,628.94 410.5,629.48 414.5,629.97 418.5,630.32 422.5,630.57 426.5,630.71 430.5,630.75 434.5,631.33 438.5,632.35 442.5,633.59 446.5,635.05 450.5,636.61 454.5,638.08 458.5,639.52 462.5,641.06 466.5,642.66 470.5,643.64 474.5,644.00 478.5,644.03 482.5,643.76 486.5,643.39 490.5,642.96 494.5,642.49 498.5,641.84 502.5,641.17 506.5,640.73 510.5,640.43 514.5,640.27 518.5,640.35 522.5,640.42 526.5,640.69 530.5,641.07 534.5,641.66 538.5,642.32 542.5,643.22 546.5,644.47 550.5,646.09 554.5,647.99 558.5,650.12 562.5,652.46 566.5,654.69 570.5,656.49 574.5,658.01 578.5,658.89 582.5,659.28 586.5,659.04 590.5,658.61 594.5,658.08 598.5,657.49 602.5,657.27 606.5,657.51 610.5,657.75 614.5,657.90 618.5,657.97 622.5,657.91 626.5,657.35 630.5,656.47 634.5,655.15 638.5,653.41 642.5,651.29 646.5,649.34 650.5,647.70 654.5,646.18 658.5,645.11 662.5,644.66 666.5,644.60 670.5,645.12 674.5,646.03 678.5,647.34 682.5,648.87 686.5,650.45 690.5,651.90 694.5,653.07 698.5,653.84 702.5,654.30 706.5,654.22 710.5,653.61 714.5,652.60 718.5,651.38 722.5,650.17 726.5,648.99 730.5,647.87 734.5,646.70 738.5,645.66 742.5,645.06 746.5,644.60 750.5,644.14 754.5,643.61 758.5,642.98 762.5,642.29 766.5,641.49 770.5,640.83 774.5,640.20 778.5,639.33 782.5,638.58 786.5,638.02 790.5,637.59 794.5,637.24 798.5,637.07 802.5,637.06 806.5,636.94 810.5,636.91 814.5,637.01 818.5,637.05 822.5,637.30 826.5,637.48 830.5,637.63 834.5,637.63 838.5,637.47 842.5,637.17 846.5,636.69 850.5,636.05 854.5,635.36 858.5,634.46 862.5,633.47 866.5,632.52 870.5,631.38 874.5,630.10 878.5,628.74 882.5,627.03 886.5,625.00 890.5,622.26 894.5,619.03 898.5,615.55 902.5,611.69 906.5,607.81 910.5,604.10 914.5,600.67 918.5,597.69 922.5,595.20 926.5,593.73 930.5,593.01 934.5,592.82 938.5,593.17 942.5,593.97 946.5,595.08 950.5,596.48 954.5,598.10 958.5,599.79 962.5,601.39 966.5,602.79 970.5,604.08 974.5,605.48 978.5,606.95 982.5,608.42 986.5,609.75 990.5,611.01 994.5,612.51 998.5,614.18 1002.5,616.30 1006.5,618.72 1010.5,621.11 1014.5,623.41 1018.5,625.69 1022.5,627.99 1026.5,630.30 1030.5,632.41 1034.5,634.16 1038.5,635.40 1042.5,636.28 1046.5,636.85 1050.5,637.27 1054.5,637.49 1058.5,637.62 1062.5,637.65 1066.5,637.48 1070.5,637.37 1074.5,637.25 1078.5,637.14 1082.5,637.16 1086.5,637.19 1090.5,637.26 1094.5,637.21 1098.5,637.18 1102.5,637.17 1106.5,637.08 1110.5,636.88 1114.5,636.60 1118.5,636.10 1122.5,635.06 1126.5,633.58 1130.5,630.69 1134.5,627.22 1138.5,623.10 1142.5,618.59 1146.5,613.95" fill="none" stroke="#ff0000" stroke-width="1" stroke-dasharray="3,3" clip-path="url(#cmacd)" shape-rendering="crispEdges"/>
<g shape-rendering="crispEdges">
<rect x="6" y="710" width="3" height="1" fill="#c0c0c0"/>
<rect x="6" y="761" width="3" height="1" fill="#c0c0c0"/>
<rect x="12" y="710" width="3" height="1" fill="#c0c0c0"/>
<rect x="12" y="761" width="3" height="1" fill="#c0c0c0"/>
<rect x="18" y="710" width="3" height="1" fill="#c0c0c0"/>
<rect x="18" y="761" width="3" height="1" fill="#c0c0c0"/>
<rect x="24" y="710" width="3" height="1" fill="#c0c0c0"/>
<rect x="24" y="761" width="3" height="1" fill="#c0c0c0"/>
<rect x="30" y="710" width="3" height="1" fill="#c0c0c0"/>
<rect x="30" y="761" width="3" height="1" fill="#c0c0c0"/>
<rect x="36" y="710" width="3" height="1" fill="#c0c0c0"/>
<rect x="36" y="761" width="3" height="1" fill="#c0c0c0"/>
<rect x="42" y="710" width="3" height="1" fill="#c0c0c0"/>
<rect x="42" y="761" width="3" height="1" fill="#c0c0c0"/>
<rect x="48" y="710" width="3" height="1" fill="#c0c0c0"/>
<rect x="48" y="761" width="3" height="1" fill="#c0c0c0"/>
<rect x="54" y="710" width="3" height="1" fill="#c0c0c0"/>
<rect x="54" y="761" width="3" height="1" fill="#c0c0c0"/>
<rect x="60" y="710" width="3" height="1" fill="#c0c0c0"/>
<rect x="60" y="761" width="3" height="1" fill="#c0c0c0"/>
<rect x="66" y="710" width="3" height="1" fill="#c0c0c0"/>
<rect x="66" y="761" width="3" height="1" fill="#c0c0c0"/>
<rect x="72" y="710" width="3" height="1" fill="#c0c0c0"/>
<rect x="72" y="761" width="3" height="1" fill="#c0c0c0"/>
<rect x="78" y="710" width="3" height="1" fill="#c0c0c0"/>
<rect x="78" y="761" width="3" height="1" fill="#c0c0c0"/>
<rect x="84" y="710" width="3" height="1" fill="#c0c0c0"/>
<rect x="84" y="761" width="3" height="1" fill="#c0c0c0"/>
<rect x="90" y="710" width="3" height="1" fill="#c0c0c0"/>
<rect x="90" y="761" width="3" height="1" fill="#c0c0c0"/>
<rect x="96" y="710" width="3" height="1" fill="#c0c0c0"/>
<rect x="96" y="761" width="3" height="1" fill="#c0c0c0"/>
<rect x="102" y="710" width="3" height="1" fill="#c0c0c0"/>
<rect x="102" y="761" width="3" height="1" fill="#c0c0c0"/>
<rect x="108" y="710" width="3" height="1" fill="#c0c0c0"/>
<rect x="108" y="761" width="3" height="1" fill="#c0c0c0"/>
<rect x="114" y="710" width="3" height="1" fill="#c0c0c0"/>
<rect x="114" y="761" width="3" height="1" fill="#c0c0c0"/>
<rect x="120" y="710" width="3" height="1" fill="#c0c0c0"/>
<rect x="120" y="761" width="3" height="1" fill="#c0c0c0"/>
<rect x="126" y="710" width="3" height="1" fill="#c0c0c0"/>
<rect x="126" y="761" width="3" height="1" fill="#c0c0c0"/>
<rect x="132" y="710" width="3" height="1" fill="#c0c0c0"/>
<rect x="132" y="761" width="3" height="1" fill="#c0c0c0"/>
<rect x="138" y="710" width="3" height="1" fill="#c0c0c0"/>
<rect x="138" y="761" width="3" height="1" fill="#c0c0c0"/>
<rect x="144" y="710" width="3" height="1" fill="#c0c0c0"/>
<rect x="144" y="761" width="3" height="1" fill="#c0c0c0"/>
<rect x="150" y="710" width="3" height="1" fill="#c0c0c0"/>
<rect x="150" y="761" width="3" height="1" fill="#c0c0c0"/>
<rect x="156" y="710" width="3" height="1" fill="#c0c0c0"/>
<rect x="156" y="761" width="3" height="1" fill="#c0c0c0"/>
<rect x="162" y="710" width="3" height="1" fill="#c0c0c0"/>
<rect x="162" y="761" width="3" height="1" fill="#c0c0c0"/>
<rect x="168" y="710" width="3" height="1" fill="#c0c0c0"/>
<rect x="168" y="761" width="3" height="1" fill="#c0c0c0"/>
<rect x="174" y="710" width="3" height="1" fill="#c0c0c0"/>
<rect x="174" y="761" width="3" height="1" fill="#c0c0c0"/>
<rect x="180" y="710" width="3" height="1" fill="#c0c0c0"/>
<rect x="180" y="761" width="3" height="1" fill="#c0c0c0"/>
<rect x="186" y="710" width="3" height="1" fill="#c0c0c0"/>
<rect x="186" y="761" width="3" height="1" fill="#c0c0c0"/>
<rect x="192" y="710" width="3" height="1" fill="#c0c0c0"/>
<rect x="192" y="761" width="3" height="1" fill="#c0c0c0"/>
<rect x="198" y="710" width="3" height="1" fill="#c0c0c0"/>
<rect x="198" y="761" width="3" height="1" fill="#c0c0c0"/>
<rect x="204" y="710" width="3" height="1" fill="#c0c0c0"/>
<rect x="204" y="761" width="3" height="1" fill="#c0c0c0"/>
<rect x="210" y="710" width="3" height="1" fill="#c0c0c0"/>
<rect x="210" y="761" width="3" height="1" fill="#c0c0c0"/>
<rect x="216" y="710" width="3" height="1" fill="#c0c0c0"/>
<rect x="216" y="761" width="3" height="1" fill="#c0c0c0"/>
<rect x="222" y="710" width="3" height="1" fill="#c0c0c0"/>
<rect x="222" y="761" width="3" height="1" fill="#c0c0c0"/>
<rect x="228" y="710" width="3" height="1" fill="#c0c0c0"/>
<rect x="228" y="761" width="3" height="1" fill="#c0c0c0"/>
<rect x="234" y="710" width="3" height="1" fill="#c0c0c0"/>
<rect x="234" y="761" width="3" height="1" fill="#c0c0c0"/>
<rect x="240" y="710" width="3" height="1" fill="#c0c0c0"/>
<rect x="240" y="761" width="3" height="1" fill="#c0c0c0"/>
<rect x="246" y="710" width="3" height="1" fill="#c0c0c0"/>
<rect x="246" y="761" width="3" height="1" fill="#c0c0c0"/>
<rect x="252" y="710" width="3" height="1" fill="#c0c0c0"/>
<rect x="252" y="761" width="3" height="1" fill="#c0c0c0"/>
<rect x="258" y="710" width="3" height="1" fill="#c0c0c0"/>
<rect x="258" y="761" width="3" height="1" fill="#c0c0c0"/>
<rect x="264" y="710" width="3" height="1" fill="#c0c0c0"/>
<rect x="264" y="761" width="3" height="1" fill="#c0c0c0"/>
<rect x="270" y="710" width="3" height="1" fill="#c0c0c0"/>
<rect x="270" y="761" width="3" height="1" fill="#c0c0c0"/>
<rect x="276" y="710" width="3" height="1" fill="#c0c0c0"/>
<rect x="276" y="761" width="3" height="1" fill="#c0c0c0"/>
<rect x="282" y="710" width="3" height="1" fill="#c0c0c0"/>
<rect x="282" y="761" width="3" height="1" fill="#c0c0c0"/>
<rect x="288" y="710" width="3" height="1" fill="#c0c0c0"/>
<rect x="288" y="761" width="3" height="1" fill="#c0c0c0"/>
<rect x="294" y="710" width="3" height="1" fill="#c0c0c0"/>
<rect x="294" y="761" width="3" height="1" fill="#c0c0c0"/>
<rect x="300" y="710" width="3" height="1" fill="#c0c0c0"/>
<rect x="300" y="761" width="3" height="1" fill="#c0c0c0"/>
<rect x="306" y="710" width="3" height="1" fill="#c0c0c0"/>
<rect x="306" y="761" width="3" height="1" fill="#c0c0c0"/>
<rect x="312" y="710" width="3" height="1" fill="#c0c0c0"/>
<rect x="312" y="761" width="3" height="1" fill="#c0c0c0"/>
<rect x="318" y="710" width="3" height="1" fill="#c0c0c0"/>
<rect x="318" y="761" width="3" height="1" fill="#c0c0c0"/>
<rect x="324" y="710" width="3" height="1" fill="#c0c0c0"/>
<rect x="324" y="761" width="3" height="1" fill="#c0c0c0"/>
<rect x="330" y="710" width="3" height="1" fill="#c0c0c0"/>
<rect x="330" y="761" width="3" height="1" fill="#c0c0c0"/>
<rect x="336" y="710" width="3" height="1" fill="#c0c0c0"/>
<rect x="336" y="761" width="3" height="1" fill="#c0c0c0"/>
<rect x="342" y="710" width="3" height="1" fill="#c0c0c0"/>
<rect x="342" y="761" width="3" height="1" fill="#c0c0c0"/>
<rect x="348" y="710" width="3" height="1" fill="#c0c0c0"/>
<rect x="348" y="761" width="3" height="1" fill="#c0c0c0"/>
<rect x="354" y="710" width="3" height="1" fill="#c0c0c0"/>
<rect x="354" y="761" width="3" height="1" fill="#c0c0c0"/>
<rect x="360" y="710" width="3" height="1" fill="#c0c0c0"/>
<rect x="360" y="761" width="3" height="1" fill="#c0c0c0"/>
<rect x="366" y="710" width="3" height="1" fill="#c0c0c0"/>
<rect x="366" y="761" width="3" height="1" fill="#c0c0c0"/>
<rect x="372" y="710" width="3" height="1" fill="#c0c0c0"/>
<rect x="372" y="761" width="3" height="1" fill="#c0c0c0"/>
<rect x="378" y="710" width="3" height="1" fill="#c0c0c0"/>
<rect x="378" y="761" width="3" height="1" fill="#c0c0c0"/>
<rect x="384" y="710" width="3" height="1" fill="#c0c0c0"/>
<rect x="384" y="761" width="3" height="1" fill="#c0c0c0"/>
<rect x="390" y="710" width="3" height="1" fill="#c0c0c0"/>
<rect x="390" y="761" width="3" height="1" fill="#c0c0c0"/>
<rect x="396" y="710" width="3" height="1" fill="#c0c0c0"/>
<rect x="396" y="761" width="3" height="1" fill="#c0c0c0"/>
<rect x="402" y="710" width="3" height="1" fill="#c0c0c0"/>
<rect x="402" y="761" width="3" height="1" fill="#c0c0c0"/>
<rect x="408" y="710" width="3" height="1" fill="#c0c0c0"/>
<rect x="408" y="761" width="3" height="1" fill="#c0c0c0"/>
<rect x="414" y="710" width="3" height="1" fill="#c0c0c0"/>
<rect x="414" y="761" width="3" height="1" fill="#c0c0c0"/>
<rect x="420" y="710" width="3" height="1" fill="#c0c0c0"/>
<rect x="420" y="761" width="3" height="1" fill="#c0c0c0"/>
<rect x="426" y="710" width="3" height="1" fill="#c0c0c0"/>
<rect x="426" y="761" width="3" height="1" fill="#c0c0c0"/>
<rect x="432" y="710" width="3" height="1" fill="#c0c0c0"/>
<rect x="432" y="761" width="3" height="1" fill="#c0c0c0"/>
<rect x="438" y="710" width="3" height="1" fill="#c0c0c0"/>
<rect x="438" y="761" width="3" height="1" fill="#c0c0c0"/>
<rect x="444" y="710" width="3" height="1" fill="#c0c0c0"/>
<rect x="444" y="761" width="3" height="1" fill="#c0c0c0"/>
<rect x="450" y="710" width="3" height="1" fill="#c0c0c0"/>
<rect x="450" y="761" width="3" height="1" fill="#c0c0c0"/>
<rect x="456" y="710" width="3" height="1" fill="#c0c0c0"/>
<rect x="456" y="761" width="3" height="1" fill="#c0c0c0"/>
<rect x="462" y="710" width="3" height="1" fill="#c0c0c0"/>
<rect x="462" y="761" width="3" height="1" fill="#c0c0c0"/>
<rect x="468" y="710" width="3" height="1" fill="#c0c0c0"/>
<rect x="468" y="761" width="3" height="1" fill="#c0c0c0"/>
<rect x="474" y="710" width="3" height="1" fill="#c0c0c0"/>
<rect x="474" y="761" width="3" height="1" fill="#c0c0c0"/>
<rect x="480" y="710" width="3" height="1" fill="#c0c0c0"/>
<rect x="480" y="761" width="3" height="1" fill="#c0c0c0"/>
<rect x="486" y="710" width="3" height="1" fill="#c0c0c0"/>
<rect x="486" y="761" width="3" height="1" fill="#c0c0c0"/>
<rect x="492" y="710" width="3" height="1" fill="#c0c0c0"/>
<rect x="492" y="761" width="3" height="1" fill="#c0c0c0"/>
<rect x="498" y="710" width="3" height="1" fill="#c0c0c0"/>
<rect x="498" y="761" width="3" height="1" fill="#c0c0c0"/>
<rect x="504" y="710" width="3" height="1" fill="#c0c0c0"/>
<rect x="504" y="761" width="3" height="1" fill="#c0c0c0"/>
<rect x="510" y="710" width="3" height="1" fill="#c0c0c0"/>
<rect x="510" y="761" width="3" height="1" fill="#c0c0c0"/>
<rect x="516" y="710" width="3" height="1" fill="#c0c0c0"/>
<rect x="516" y="761" width="3" height="1" fill="#c0c0c0"/>
<rect x="522" y="710" width="3" height="1" fill="#c0c0c0"/>
<rect x="522" y="761" width="3" height="1" fill="#c0c0c0"/>
<rect x="528" y="710" width="3" height="1" fill="#c0c0c0"/>
<rect x="528" y="761" width="3" height="1" fill="#c0c0c0"/>
<rect x="534" y="710" width="3" height="1" fill="#c0c0c0"/>
<rect x="534" y="761" width="3" height="1" fill="#c0c0c0"/>
<rect x="540" y="710" width="3" height="1" fill="#c0c0c0"/>
<rect x="540" y="761" width="3" height="1" fill="#c0c0c0"/>
<rect x="546" y="710" width="3" height="1" fill="#c0c0c0"/>
<rect x="546" y="761" width="3" height="1" fill="#c0c0c0"/>
<rect x="552" y="710" width="3" height="1" fill="#c0c0c0"/>
<rect x="552" y="761" width="3" height="1" fill="#c0c0c0"/>
<rect x="558" y="710" width="3" height="1" fill="#c0c0c0"/>
<rect x="558" y="761" width="3" height="1" fill="#c0c0c0"/>
<rect x="564" y="710" width="3" height="1" fill="#c0c0c0"/>
<rect x="564" y="761" width="3" height="1" fill="#c0c0c0"/>
<rect x="570" y="710" width="3" height="1" fill="#c0c0c0"/>
<rect x="570" y="761" width="3" height="1" fill="#c0c0c0"/>
<rect x="576" y="710" width="3" height="1" fill="#c0c0c0"/>
<rect x="576" y="761" width="3" height="1" fill="#c0c0c0"/>
<rect x="582" y="710" width="3" height="1" fill="#c0c0c0"/>
<rect x="582" y="761" width="3" height="1" fill="#c0c0c0"/>
<rect x="588" y="710" width="3" height="1" fill="#c0c0c0"/>
<rect x="588" y="761" width="3" height="1" fill="#c0c0c0"/>
<rect x="594" y="710" width="3" height="1" fill="#c0c0c0"/>
<rect x="594" y="761" width="3" height="1" fill="#c0c0c0"/>
<rect x="600" y="710" width="3" height="1" fill="#c0c0c0"/>
<rect x="600" y="761" width="3" height="1" fill="#c0c0c0"/>
<rect x="606" y="710" width="3" height="1" fill="#c0c0c0"/>
<rect x="606" y="761" width="3" height="1" fill="#c0c0c0"/>
<rect x="612" y="710" width="3" height="1" fill="#c0c0c0"/>
<rect x="612" y="761" width="3" height="1" fill="#c0c0c0"/>
<rect x="618" y="710" width="3" height="1" fill="#c0c0c0"/>
<rect x="618" y="761" width="3" height="1" fill="#c0c0c0"/>
<rect x="624" y="710" width="3" height="1" fill="#c0c0c0"/>
<rect x="624" y="761" width="3" height="1" fill="#c0c0c0"/>
<rect x="630" y="710" width="3" height="1" fill="#c0c0c0"/>
<rect x="630" y="761" width="3" height="1" fill="#c0c0c0"/>
<rect x="636" y="710" width="3" height="1" fill="#c0c0c0"/>
<rect x="636" y="761" width="3" height="1" fill="#c0c0c0"/>
<rect x="642" y="710" width="3" height="1" fill="#c0c0c0"/>
<rect x="642" y="761" width="3" height="1" fill="#c0c0c0"/>
<rect x="648" y="710" width="3" height="1" fill="#c0c0c0"/>
<rect x="648" y="761" width="3" height="1" fill="#c0c0c0"/>
<rect x="654" y="710" width="3" height="1" fill="#c0c0c0"/>
<rect x="654" y="761" width="3" height="1" fill="#c0c0c0"/>
<rect x="660" y="710" width="3" height="1" fill="#c0c0c0"/>
<rect x="660" y="761" width="3" height="1" fill="#c0c0c0"/>
<rect x="666" y="710" width="3" height="1" fill="#c0c0c0"/>
<rect x="666" y="761" width="3" height="1" fill="#c0c0c0"/>
<rect x="672" y="710" width="3" height="1" fill="#c0c0c0"/>
<rect x="672" y="761" width="3" height="1" fill="#c0c0c0"/>
<rect x="678" y="710" width="3" height="1" fill="#c0c0c0"/>
<rect x="678" y="761" width="3" height="1" fill="#c0c0c0"/>
<rect x="684" y="710" width="3" height="1" fill="#c0c0c0"/>
<rect x="684" y="761" width="3" height="1" fill="#c0c0c0"/>
<rect x="690" y="710" width="3" height="1" fill="#c0c0c0"/>
<rect x="690" y="761" width="3" height="1" fill="#c0c0c0"/>
<rect x="696" y="710" width="3" height="1" fill="#c0c0c0"/>
<rect x="696" y="761" width="3" height="1" fill="#c0c0c0"/>
<rect x="702" y="710" width="3" height="1" fill="#c0c0c0"/>
<rect x="702" y="761" width="3" height="1" fill="#c0c0c0"/>
<rect x="708" y="710" width="3" height="1" fill="#c0c0c0"/>
<rect x="708" y="761" width="3" height="1" fill="#c0c0c0"/>
<rect x="714" y="710" width="3" height="1" fill="#c0c0c0"/>
<rect x="714" y="761" width="3" height="1" fill="#c0c0c0"/>
<rect x="720" y="710" width="3" height="1" fill="#c0c0c0"/>
<rect x="720" y="761" width="3" height="1" fill="#c0c0c0"/>
<rect x="726" y="710" width="3" height="1" fill="#c0c0c0"/>
<rect x="726" y="761" width="3" height="1" fill="#c0c0c0"/>
<rect x="732" y="710" width="3" height="1" fill="#c0c0c0"/>
<rect x="732" y="761" width="3" height="1" fill="#c0c0c0"/>
<rect x="738" y="710" width="3" height="1" fill="#c0c0c0"/>
<rect x="738" y="761" width="3" height="1" fill="#c0c0c0"/>
<rect x="744" y="710" width="3" height="1" fill="#c0c0c0"/>
<rect x="744" y="761" width="3" height="1" fill="#c0c0c0"/>
<rect x="750" y="710" width="3" height="1" fill="#c0c0c0"/>
<rect x="750" y="761" width="3" height="1" fill="#c0c0c0"/>
<rect x="756" y="710" width="3" height="1" fill="#c0c0c0"/>
<rect x="756" y="761" width="3" height="1" fill="#c0c0c0"/>
<rect x="762" y="710" width="3" height="1" fill="#c0c0c0"/>
<rect x="762" y="761" width="3" height="1" fill="#c0c0c0"/>
<rect x="768" y="710" width="3" height="1" fill="#c0c0c0"/>
<rect x="768" y="761" width="3" height="1" fill="#c0c0c0"/>
<rect x="774" y="710" width="3" height="1" fill="#c0c0c0"/>
<rect x="774" y="761" width="3" height="1" fill="#c0c0c0"/>
<rect x="780" y="710" width="3" height="1" fill="#c0c0c0"/>
<rect x="780" y="761" width="3" height="1" fill="#c0c0c0"/>
<rect x="786" y="710" width="3" height="1" fill="#c0c0c0"/>
<rect x="786" y="761" width="3" height="1" fill="#c0c0c0"/>
<rect x="792" y="710" width="3" height="1" fill="#c0c0c0"/>
<rect x="792" y="761" width="3" height="1" fill="#c0c0c0"/>
<rect x="798" y="710" width="3" height="1" fill="#c0c0c0"/>
<rect x="798" y="761" width="3" height="1" fill="#c0c0c0"/>
<rect x="804" y="710" width="3" height="1" fill="#c0c0c0"/>
<rect x="804" y="761" width="3" height="1" fill="#c0c0c0"/>
<rect x="810" y="710" width="3" height="1" fill="#c0c0c0"/>
<rect x="810" y="761" width="3" height="1" fill="#c0c0c0"/>
<rect x="816" y="710" width="3" height="1" fill="#c0c0c0"/>
<rect x="816" y="761" width="3" height="1" fill="#c0c0c0"/>
<rect x="822" y="710" width="3" height="1" fill="#c0c0c0"/>
<rect x="822" y="761" width="3" height="1" fill="#c0c0c0"/>
<rect x="828" y="710" width="3" height="1" fill="#c0c0c0"/>
<rect x="828" y="761" width="3" height="1" fill="#c0c0c0"/>
<rect x="834" y="710" width="3" height="1" fill="#c0c0c0"/>
<rect x="834" y="761" width="3" height="1" fill="#c0c0c0"/>
<rect x="840" y="710" width="3" height="1" fill="#c0c0c0"/>
<rect x="840" y="761" width="3" height="1" fill="#c0c0c0"/>
<rect x="846" y="710" width="3" height="1" fill="#c0c0c0"/>
<rect x="846" y="761" width="3" height="1" fill="#c0c0c0"/>
<rect x="852" y="710" width="3" height="1" fill="#c0c0c0"/>
<rect x="852" y="761" width="3" height="1" fill="#c0c0c0"/>
<rect x="858" y="710" width="3" height="1" fill="#c0c0c0"/>
<rect x="858" y="761" width="3" height="1" fill="#c0c0c0"/>
<rect x="864" y="710" width="3" height="1" fill="#c0c0c0"/>
<rect x="864" y="761" width="3" height="1" fill="#c0c0c0"/>
<rect x="870" y="710" width="3" height="1" fill="#c0c0c0"/>
<rect x="870" y="761" width="3" height="1" fill="#c0c0c0"/>
<rect x="876" y="710" width="3" height="1" fill="#c0c0c0"/>
<rect x="876" y="761" width="3" height="1" fill="#c0c0c0"/>
<rect x="882" y="710" width="3" height="1" fill="#c0c0c0"/>
<rect x="882" y="761" width="3" height="1" fill="#c0c0c0"/>
<rect x="888" y="710" width="3" height="1" fill="#c0c0c0"/>
<rect x="888" y="761" width="3" height="1" fill="#c0c0c0"/>
<rect x="894" y="710" width="3" height="1" fill="#c0c0c0"/>
<rect x="894" y="761" width="3" height="1" fill="#c0c0c0"/>
<rect x="900" y="710" width="3" height="1" fill="#c0c0c0"/>
<rect x="900" y="761" width="3" height="1" fill="#c0c0c0"/>
<rect x="906" y="710" width="3" height="1" fill="#c0c0c0"/>
<rect x="906" y="761" width="3" height="1" fill="#c0c0c0"/>
<rect x="912" y="710" width="3" height="1" fill="#c0c0c0"/>
<rect x="912" y="761" width="3" height="1" fill="#c0c0c0"/>
<rect x="918" y="710" width="3" height="1" fill="#c0c0c0"/>
<rect x="918" y="761" width="3" height="1" fill="#c0c0c0"/>
<rect x="924" y="710" width="3" height="1" fill="#c0c0c0"/>
<rect x="924" y="761" width="3" height="1" fill="#c0c0c0"/>
<rect x="930" y="710" width="3" height="1" fill="#c0c0c0"/>
<rect x="930" y="761" width="3" height="1" fill="#c0c0c0"/>
<rect x="936" y="710" width="3" height="1" fill="#c0c0c0"/>
<rect x="936" y="761" width="3" height="1" fill="#c0c0c0"/>
<rect x="942" y="710" width="3" height="1" fill="#c0c0c0"/>
<rect x="942" y="761" width="3" height="1" fill="#c0c0c0"/>
<rect x="948" y="710" width="3" height="1" fill="#c0c0c0"/>
<rect x="948" y="761" width="3" height="1" fill="#c0c0c0"/>
<rect x="954" y="710" width="3" height="1" fill="#c0c0c0"/>
<rect x="954" y="761" width="3" height="1" fill="#c0c0c0"/>
<rect x="960" y="710" width="3" height="1" fill="#c0c0c0"/>
<rect x="960" y="761" width="3" height="1" fill="#c0c0c0"/>
<rect x="966" y="710" width="3" height="1" fill="#c0c0c0"/>
<rect x="966" y="761" width="3" height="1" fill="#c0c0c0"/>
<rect x="972" y="710" width="3" height="1" fill="#c0c0c0"/>
<rect x="972" y="761" width="3" height="1" fill="#c0c0c0"/>
<rect x="978" y="710" width="3" height="1" fill="#c0c0c0"/>
<rect x="978" y="761" width="3" height="1" fill="#c0c0c0"/>
<rect x="984" y="710" width="3" height="1" fill="#c0c0c0"/>
<rect x="984" y="761" width="3" height="1" fill="#c0c0c0"/>
<rect x="990" y="710" width="3" height="1" fill="#c0c0c0"/>
<rect x="990" y="761" width="3" height="1" fill="#c0c0c0"/>
<rect x="996" y="710" width="3" height="1" fill="#c0c0c0"/>
<rect x="996" y="761" width="3" height="1" fill="#c0c0c0"/>
<rect x="1002" y="710" width="3" height="1" fill="#c0c0c0"/>
<rect x="1002" y="761" width="3" height="1" fill="#c0c0c0"/>
<rect x="1008" y="710" width="3" height="1" fill="#c0c0c0"/>
<rect x="1008" y="761" width="3" height="1" fill="#c0c0c0"/>
<rect x="1014" y="710" width="3" height="1" fill="#c0c0c0"/>
<rect x="1014" y="761" width="3" height="1" fill="#c0c0c0"/>
<rect x="1020" y="710" width="3" height="1" fill="#c0c0c0"/>
<rect x="1020" y="761" width="3" height="1" fill="#c0c0c0"/>
<rect x="1026" y="710" width="3" height="1" fill="#c0c0c0"/>
<rect x="1026" y="761" width="3" height="1" fill="#c0c0c0"/>
<rect x="1032" y="710" width="3" height="1" fill="#c0c0c0"/>
<rect x="1032" y="761" width="3" height="1" fill="#c0c0c0"/>
<rect x="1038" y="710" width="3" height="1" fill="#c0c0c0"/>
<rect x="1038" y="761" width="3" height="1" fill="#c0c0c0"/>
<rect x="1044" y="710" width="3" height="1" fill="#c0c0c0"/>
<rect x="1044" y="761" width="3" height="1" fill="#c0c0c0"/>
<rect x="1050" y="710" width="3" height="1" fill="#c0c0c0"/>
<rect x="1050" y="761" width="3" height="1" fill="#c0c0c0"/>
<rect x="1056" y="710" width="3" height="1" fill="#c0c0c0"/>
<rect x="1056" y="761" width="3" height="1" fill="#c0c0c0"/>
<rect x="1062" y="710" width="3" height="1" fill="#c0c0c0"/>
<rect x="1062" y="761" width="3" height="1" fill="#c0c0c0"/>
<rect x="1068" y="710" width="3" height="1" fill="#c0c0c0"/>
<rect x="1068" y="761" width="3" height="1" fill="#c0c0c0"/>
<rect x="1074" y="710" width="3" height="1" fill="#c0c0c0"/>
<rect x="1074" y="761" width="3" height="1" fill="#c0c0c0"/>
<rect x="1080" y="710" width="3" height="1" fill="#c0c0c0"/>
<rect x="1080" y="761" width="3" height="1" fill="#c0c0c0"/>
<rect x="1086" y="710" width="3" height="1" fill="#c0c0c0"/>
<rect x="1086" y="761" width="3" height="1" fill="#c0c0c0"/>
<rect x="1092" y="710" width="3" height="1" fill="#c0c0c0"/>
<rect x="1092" y="761" width="3" height="1" fill="#c0c0c0"/>
<rect x="1098" y="710" width="3" height="1" fill="#c0c0c0"/>
<rect x="1098" y="761" width="3" height="1" fill="#c0c0c0"/>
<rect x="1104" y="710" width="3" height="1" fill="#c0c0c0"/>
<rect x="1104" y="761" width="3" height="1" fill="#c0c0c0"/>
<rect x="1110" y="710" width="3" height="1" fill="#c0c0c0"/>
<rect x="1110" y="761" width="3" height="1" fill="#c0c0c0"/>
<rect x="1116" y="710" width="3" height="1" fill="#c0c0c0"/>
<rect x="1116" y="761" width="3" height="1" fill="#c0c0c0"/>
<rect x="1122" y="710" width="3" height="1" fill="#c0c0c0"/>
<rect x="1122" y="761" width="3" height="1" fill="#c0c0c0"/>
<rect x="1128" y="710" width="3" height="1" fill="#c0c0c0"/>
<rect x="1128" y="761" width="3" height="1" fill="#c0c0c0"/>
<rect x="1134" y="710" width="3" height="1" fill="#c0c0c0"/>
<rect x="1134" y="761" width="3" height="1" fill="#c0c0c0"/>
<rect x="1140" y="710" width="3" height="1" fill="#c0c0c0"/>
<rect x="1140" y="761" width="3" height="1" fill="#c0c0c0"/>
<rect x="1146" y="710" width="3" height="1" fill="#c0c0c0"/>
<rect x="1146" y="761" width="3" height="1" fill="#c0c0c0"/>
<rect x="1152" y="710" width="3" height="1" fill="#c0c0c0"/>
<rect x="1152" y="761" width="3" height="1" fill="#c0c0c0"/>
<rect x="1158" y="710" width="3" height="1" fill="#c0c0c0"/>
<rect x="1158" y="761" width="3" height="1" fill="#c0c0c0"/>
<rect x="1164" y="710" width="3" height="1" fill="#c0c0c0"/>
<rect x="1164" y="761" width="3" height="1" fill="#c0c0c0"/>
<rect x="1170" y="710" width="3" height="1" fill="#c0c0c0"/>
<rect x="1170" y="761" width="3" height="1" fill="#c0c0c0"/>
<rect x="1176" y="710" width="3" height="1" fill="#c0c0c0"/>
<rect x="1176" y="761" width="3" height="1" fill="#c0c0c0"/>
<rect x="1182" y="710" width="3" height="1" fill="#c0c0c0"/>
<rect x="1182" y="761" width="3" height="1" fill="#c0c0c0"/>
<rect x="1188" y="710" width="3" height="1" fill="#c0c0c0"/>
<rect x="1188" y="761" width="3" height="1" fill="#c0c0c0"/>
<rect x="1194" y="710" width="3" height="1" fill="#c0c0c0"/>
<rect x="1194" y="761" width="3" height="1" fill="#c0c0c0"/>
<rect x="1200" y="710" width="3" height="1" fill="#c0c0c0"/>
<rect x="1200" y="761" width="3" height="1" fill="#c0c0c0"/>
<rect x="1206" y="710" width="3" height="1" fill="#c0c0c0"/>
<rect x="1206" y="761" width="3" height="1" fill="#c0c0c0"/>
<rect x="1212" y="710" width="3" height="1" fill="#c0c0c0"/>
<rect x="1212" y="761" width="3" height="1" fill="#c0c0c0"/>
<rect x="1218" y="710" width="3" height="1" fill="#c0c0c0"/>
<rect x="1218" y="761" width="3" height="1" fill="#c0c0c0"/>
<rect x="1224" y="710" width="3" height="1" fill="#c0c0c0"/>
<rect x="1224" y="761" width="3" height="1" fill="#c0c0c0"/>
<rect x="1230" y="710" width="3" height="1" fill="#c0c0c0"/>
<rect x="1230" y="761" width="3" height="1" fill="#c0c0c0"/>
<rect x="1236" y="710" width="3" height="1" fill="#c0c0c0"/>
<rect x="1236" y="761" width="3" height="1" fill="#c0c0c0"/>
<rect x="1242" y="710" width="3" height="1" fill="#c0c0c0"/>
<rect x="1242" y="761" width="3" height="1" fill="#c0c0c0"/>
<rect x="1248" y="710" width="3" height="1" fill="#c0c0c0"/>
<rect x="1248" y="761" width="3" height="1" fill="#c0c0c0"/>
<rect x="1254" y="710" width="3" height="1" fill="#c0c0c0"/>
<rect x="1254" y="761" width="3" height="1" fill="#c0c0c0"/>
<rect x="1260" y="710" width="3" height="1" fill="#c0c0c0"/>
<rect x="1260" y="761" width="3" height="1" fill="#c0c0c0"/>
<rect x="1266" y="710" width="3" height="1" fill="#c0c0c0"/>
<rect x="1266" y="761" width="3" height="1" fill="#c0c0c0"/>
<rect x="1272" y="710" width="3" height="1" fill="#c0c0c0"/>
<rect x="1272" y="761" width="3" height="1" fill="#c0c0c0"/>
<rect x="1278" y="710" width="3" height="1" fill="#c0c0c0"/>
<rect x="1278" y="761" width="3" height="1" fill="#c0c0c0"/>
<rect x="1284" y="710" width="3" height="1" fill="#c0c0c0"/>
<rect x="1284" y="761" width="3" height="1" fill="#c0c0c0"/>
<rect x="1290" y="710" width="3" height="1" fill="#c0c0c0"/>
<rect x="1290" y="761" width="3" height="1" fill="#c0c0c0"/>
<rect x="1296" y="710" width="3" height="1" fill="#c0c0c0"/>
<rect x="1296" y="761" width="3" height="1" fill="#c0c0c0"/>
<rect x="1302" y="710" width="3" height="1" fill="#c0c0c0"/>
<rect x="1302" y="761" width="3" height="1" fill="#c0c0c0"/>
<rect x="1308" y="710" width="3" height="1" fill="#c0c0c0"/>
<rect x="1308" y="761" width="3" height="1" fill="#c0c0c0"/>
<rect x="1314" y="710" width="3" height="1" fill="#c0c0c0"/>
<rect x="1314" y="761" width="3" height="1" fill="#c0c0c0"/>
<rect x="1320" y="710" width="3" height="1" fill="#c0c0c0"/>
<rect x="1320" y="761" width="3" height="1" fill="#c0c0c0"/>
<rect x="1326" y="710" width="3" height="1" fill="#c0c0c0"/>
<rect x="1326" y="761" width="3" height="1" fill="#c0c0c0"/>
<rect x="1332" y="710" width="3" height="1" fill="#c0c0c0"/>
<rect x="1332" y="761" width="3" height="1" fill="#c0c0c0"/>
<rect x="1338" y="710" width="3" height="1" fill="#c0c0c0"/>
<rect x="1338" y="761" width="3" height="1" fill="#c0c0c0"/>
<rect x="1344" y="710" width="3" height="1" fill="#c0c0c0"/>
<rect x="1344" y="761" width="3" height="1" fill="#c0c0c0"/>
<rect x="1350" y="710" width="3" height="1" fill="#c0c0c0"/>
<rect x="1350" y="761" width="3" height="1" fill="#c0c0c0"/>
<rect x="1356" y="710" width="3" height="1" fill="#c0c0c0"/>
<rect x="1356" y="761" width="3" height="1" fill="#c0c0c0"/>
<rect x="1362" y="710" width="3" height="1" fill="#c0c0c0"/>
<rect x="1362" y="761" width="3" height="1" fill="#c0c0c0"/>
<rect x="1368" y="710" width="3" height="1" fill="#c0c0c0"/>
<rect x="1368" y="761" width="3" height="1" fill="#c0c0c0"/>
<rect x="1374" y="710" width="3" height="1" fill="#c0c0c0"/>
<rect x="1374" y="761" width="3" height="1" fill="#c0c0c0"/>
<rect x="1380" y="710" width="3" height="1" fill="#c0c0c0"/>
<rect x="1380" y="761" width="3" height="1" fill="#c0c0c0"/>
<rect x="1386" y="710" width="3" height="1" fill="#c0c0c0"/>
<rect x="1386" y="761" width="3" height="1" fill="#c0c0c0"/>
<rect x="1392" y="710" width="3" height="1" fill="#c0c0c0"/>
<rect x="1392" y="761" width="3" height="1" fill="#c0c0c0"/>
<rect x="1398" y="710" width="3" height="1" fill="#c0c0c0"/>
<rect x="1398" y="761" width="3" height="1" fill="#c0c0c0"/>
<rect x="1404" y="710" width="3" height="1" fill="#c0c0c0"/>
<rect x="1404" y="761" width="3" height="1" fill="#c0c0c0"/>
<rect x="1410" y="710" width="3" height="1" fill="#c0c0c0"/>
<rect x="1410" y="761" width="3" height="1" fill="#c0c0c0"/>
<rect x="1416" y="710" width="3" height="1" fill="#c0c0c0"/>
<rect x="1416" y="761" width="3" height="1" fill="#c0c0c0"/>
</g>
<polyline points="6.5,707.17 10.5,702.04 14.5,701.94 18.5,700.09 22.5,696.89 26.5,708.37 30.5,705.08 34.5,708.90 38.5,705.63 42.5,704.19 46.5,700.74 50.5,700.65 54.5,697.74 58.5,700.38 62.5,717.38 66.5,708.96 70.5,708.86 74.5,708.86 78.5,710.62 82.5,709.10 86.5,704.30 90.5,712.28 94.5,710.27 98.5,724.08 102.5,721.14 106.5,718.54 110.5,715.77 114.5,712.41 118.5,712.28 122.5,707.24 126.5,724.45 130.5,731.67 134.5,730.97 138.5,732.33 142.5,728.20 146.5,722.19 150.5,738.03 154.5,739.29 158.5,737.69 162.5,735.53 166.5,727.80 170.5,734.10 174.5,733.26 178.5,730.87 182.5,731.70 186.5,732.57 190.5,727.73 194.5,728.34 198.5,726.39 202.5,736.26 206.5,733.89 210.5,727.83 214.5,725.04 218.5,732.62 222.5,733.32 226.5,737.74 230.5,735.07 234.5,731.07 238.5,730.39 242.5,728.30 246.5,726.89 250.5,729.76 254.5,726.95 258.5,729.00 262.5,724.55 266.5,727.80 270.5,725.61 274.5,719.60 278.5,723.86 282.5,719.71 286.5,735.05 290.5,725.77 294.5,726.37 298.5,727.95 302.5,725.04 306.5,721.15 310.5,723.66 314.5,722.68 318.5,723.86 322.5,721.97 326.5,720.60 330.5,721.07 334.5,715.10 338.5,716.61 342.5,714.73 346.5,737.06 350.5,745.22 354.5,738.30 358.5,737.38 362.5,736.41 366.5,731.65 370.5,728.93 374.5,724.11 378.5,730.85 382.5,732.30 386.5,736.56 390.5,739.31 394.5,734.61 398.5,731.52 402.5,736.80 406.5,737.54 410.5,730.75 414.5,731.12 418.5,728.78 422.5,733.90 426.5,735.85 430.5,730.54 434.5,753.72 438.5,757.53 442.5,752.42 446.5,748.26 450.5,746.38 454.5,736.47 458.5,742.50 462.5,748.06 466.5,744.32 470.5,738.87 474.5,739.74 478.5,741.82 482.5,736.71 486.5,740.20 490.5,732.16 494.5,738.18 498.5,739.09 502.5,740.05 506.5,745.31 510.5,742.97 514.5,746.96 518.5,747.27 522.5,740.90 526.5,741.62 530.5,746.81 534.5,752.30 538.5,749.00 542.5,759.77 546.5,763.34 550.5,767.79 554.5,768.27 558.5,762.97 562.5,764.88 566.5,756.51 570.5,746.31 574.5,747.26 578.5,742.69 582.5,748.62 586.5,746.27 590.5,756.60 594.5,755.02 598.5,756.99 602.5,764.29 606.5,762.85 610.5,746.36 614.5,739.86 618.5,744.07 622.5,740.28 626.5,737.17 630.5,738.28 634.5,733.62 638.5,740.95 642.5,737.12 646.5,741.21 650.5,740.58 654.5,740.04 658.5,748.92 662.5,754.19 666.5,750.33 670.5,755.12 674.5,758.46 678.5,758.65 682.5,759.67 686.5,752.87 690.5,744.88 694.5,747.30 698.5,747.99 702.5,744.19 706.5,737.85 710.5,739.22 714.5,739.06 718.5,746.04 722.5,746.69 726.5,739.38 730.5,742.95 734.5,738.76 738.5,741.92 742.5,751.33 746.5,740.84 750.5,735.62 754.5,738.81 758.5,737.18 762.5,731.93 766.5,731.93 770.5,739.53 774.5,737.58 778.5,735.60 782.5,740.66 786.5,739.15 790.5,742.13 794.5,737.56 798.5,738.64 802.5,738.64 806.5,733.49 810.5,741.87 814.5,743.03 818.5,738.96 822.5,751.34 826.5,739.91 830.5,737.03 834.5,731.95 838.5,729.54 842.5,725.11 846.5,729.37 850.5,728.76 854.5,730.07 858.5,733.15 862.5,726.55 866.5,729.99 870.5,715.62 874.5,713.32 878.5,711.10 882.5,704.46 886.5,702.77 890.5,694.53 894.5,699.65 898.5,699.52 902.5,696.47 906.5,695.26 910.5,699.98 914.5,702.72 918.5,701.63 922.5,704.29 926.5,712.92 930.5,714.38 934.5,711.78 938.5,710.08 942.5,708.59 946.5,710.90 950.5,718.47 954.5,716.72 958.5,714.95 962.5,715.98 966.5,711.66 970.5,711.38 974.5,723.00 978.5,721.55 982.5,720.43 986.5,719.77 990.5,719.77 994.5,740.29 998.5,741.00 1002.5,752.22 1006.5,750.06 1010.5,743.12 1014.5,739.07 1018.5,742.02 1022.5,744.89 1026.5,745.72 1030.5,750.89 1034.5,738.44 1038.5,740.14 1042.5,741.46 1046.5,732.91 1050.5,736.23 1054.5,733.45 1058.5,742.07 1062.5,740.57 1066.5,739.03 1070.5,741.42 1074.5,739.17 1078.5,741.24 1082.5,741.24 1086.5,737.05 1090.5,736.80 1094.5,735.65 1098.5,742.59 1102.5,742.59 1106.5,735.93 1110.5,729.46 1114.5,731.71 1118.5,721.13 1122.5,703.06 1126.5,702.13 1130.5,687.11 1134.5,711.88 1138.5,708.34 1142.5,708.91 1146.5,710.59" fill="none" stroke="#1e90ff" stroke-width="1" clip-path="url(#crsi)" shape-rendering="crispEdges"/>
<polygon points="6,795 6,800 11,800" fill="#c0c0c0"/>
<g shape-rendering="crispEdges">
<rect x="5" y="24" width="1417" height="1" fill="#000"/>
<rect x="5" y="563" width="1417" height="1" fill="#000"/>
<rect x="5" y="24" width="1" height="540" fill="#000"/>
<rect x="1421" y="24" width="1" height="540" fill="#000"/>
<rect x="5" y="565" width="1417" height="1" fill="#000"/>
<rect x="5" y="668" width="1417" height="1" fill="#000"/>
<rect x="5" y="565" width="1" height="104" fill="#000"/>
<rect x="1421" y="565" width="1" height="104" fill="#000"/>
<rect x="5" y="670" width="1417" height="1" fill="#000"/>
<rect x="5" y="800" width="1417" height="1" fill="#000"/>
<rect x="5" y="670" width="1" height="131" fill="#000"/>
<rect x="1421" y="670" width="1" height="131" fill="#000"/>
<rect x="1422" y="32" width="2" height="1" fill="#000"/>
<rect x="1422" y="65" width="2" height="1" fill="#000"/>
<rect x="1422" y="98" width="2" height="1" fill="#000"/>
<rect x="1422" y="131" width="2" height="1" fill="#000"/>
<rect x="1422" y="164" width="2" height="1" fill="#000"/>
<rect x="1422" y="197" width="2" height="1" fill="#000"/>
<rect x="1422" y="230" width="2" height="1" fill="#000"/>
<rect x="1422" y="263" width="2" height="1" fill="#000"/>
<rect x="1422" y="296" width="2" height="1" fill="#000"/>
<rect x="1422" y="329" width="2" height="1" fill="#000"/>
<rect x="1422" y="362" width="2" height="1" fill="#000"/>
<rect x="1422" y="395" width="2" height="1" fill="#000"/>
<rect x="1422" y="428" width="2" height="1" fill="#000"/>
<rect x="1422" y="461" width="2" height="1" fill="#000"/>
<rect x="1422" y="494" width="2" height="1" fill="#000"/>
<rect x="1422" y="527" width="2" height="1" fill="#000"/>
<rect x="1422" y="560" width="2" height="1" fill="#000"/>
<rect x="1422" y="567" width="2" height="1" fill="#000"/>
<rect x="1422" y="634" width="2" height="1" fill="#000"/>
<rect x="1422" y="668" width="2" height="1" fill="#000"/>
<rect x="1422" y="671" width="2" height="1" fill="#000"/>
<rect x="1422" y="710" width="2" height="1" fill="#000"/>
<rect x="1422" y="761" width="2" height="1" fill="#000"/>
<rect x="1422" y="800" width="2" height="1" fill="#000"/>
<rect x="6" y="801" width="1" height="3" fill="#000"/>
<rect x="70" y="801" width="1" height="3" fill="#000"/>
<rect x="134" y="801" width="1" height="3" fill="#000"/>
<rect x="198" y="801" width="1" height="3" fill="#000"/>
<rect x="262" y="801" width="1" height="3" fill="#000"/>
<rect x="326" y="801" width="1" height="3" fill="#000"/>
<rect x="390" y="801" width="1" height="3" fill="#000"/>
<rect x="454" y="801" width="1" height="3" fill="#000"/>
<rect x="518" y="801" width="1" height="3" fill="#000"/>
<rect x="582" y="801" width="1" height="3" fill="#000"/>
<rect x="646" y="801" width="1" height="3" fill="#000"/>
<rect x="710" y="801" width="1" height="3" fill="#000"/>
<rect x="774" y="801" width="1" height="3" fill="#000"/>
<rect x="838" y="801" width="1" height="3" fill="#000"/>
<rect x="902" y="801" width="1" height="3" fill="#000"/>
<rect x="966" y="801" width="1" height="3" fill="#000"/>
<rect x="1030" y="801" width="1" height="3" fill="#000"/>
<rect x="1094" y="801" width="1" height="3" fill="#000"/>
<rect x="1423" y="75" width="38" height="11" fill="#ff0000"/>
<rect x="1423" y="104" width="38" height="11" fill="#000000"/>
<rect x="1423" y="174" width="38" height="11" fill="#00ff00"/>
<rect x="1423" y="268" width="38" height="11" fill="#0000cd"/>
<rect x="1423" y="343" width="38" height="11" fill="#0000cd"/>
</g>
</svg>
<div class="t g" style="left:1426.5px;top:28.78px;font-size:10px;letter-spacing:-0.33px;color:#000;font-weight:normal;">7.15830</div>
<div class="t g" style="left:1426.5px;top:61.78px;font-size:10px;letter-spacing:-0.33px;color:#000;font-weight:normal;">7.12365</div>
<div class="t g" style="left:1426.5px;top:94.78px;font-size:10px;letter-spacing:-0.33px;color:#000;font-weight:normal;">7.08795</div>
<div class="t g" style="left:1426.5px;top:127.78px;font-size:10px;letter-spacing:-0.33px;color:#000;font-weight:normal;">7.05330</div>
<div class="t g" style="left:1426.5px;top:160.78px;font-size:10px;letter-spacing:-0.33px;color:#000;font-weight:normal;">7.01760</div>
<div class="t g" style="left:1426.5px;top:193.78px;font-size:10px;letter-spacing:-0.33px;color:#000;font-weight:normal;">6.98295</div>
<div class="t g" style="left:1426.5px;top:226.78px;font-size:10px;letter-spacing:-0.33px;color:#000;font-weight:normal;">6.94725</div>
<div class="t g" style="left:1426.5px;top:259.78px;font-size:10px;letter-spacing:-0.33px;color:#000;font-weight:normal;">6.91260</div>
<div class="t g" style="left:1426.5px;top:292.78px;font-size:10px;letter-spacing:-0.33px;color:#000;font-weight:normal;">6.87690</div>
<div class="t g" style="left:1426.5px;top:325.78px;font-size:10px;letter-spacing:-0.33px;color:#000;font-weight:normal;">6.84225</div>
<div class="t g" style="left:1426.5px;top:358.78px;font-size:10px;letter-spacing:-0.33px;color:#000;font-weight:normal;">6.80655</div>
<div class="t g" style="left:1426.5px;top:391.78px;font-size:10px;letter-spacing:-0.33px;color:#000;font-weight:normal;">6.77190</div>
<div class="t g" style="left:1426.5px;top:424.78px;font-size:10px;letter-spacing:-0.33px;color:#000;font-weight:normal;">6.73620</div>
<div class="t g" style="left:1426.5px;top:457.78px;font-size:10px;letter-spacing:-0.33px;color:#000;font-weight:normal;">6.70155</div>
<div class="t g" style="left:1426.5px;top:490.78px;font-size:10px;letter-spacing:-0.33px;color:#000;font-weight:normal;">6.66585</div>
<div class="t g" style="left:1426.5px;top:523.78px;font-size:10px;letter-spacing:-0.33px;color:#000;font-weight:normal;">6.63120</div>
<div class="t g" style="left:1426.5px;top:556.78px;font-size:10px;letter-spacing:-0.33px;color:#000;font-weight:normal;">6.59655</div>
<div class="t g" style="left:1426.5px;top:77.78px;font-size:10px;letter-spacing:-0.33px;color:#fff;font-weight:normal;">7.10651</div>
<div class="t g" style="left:1426.5px;top:105.78px;font-size:10px;letter-spacing:-0.33px;color:#fff;font-weight:normal;">7.07611</div>
<div class="t g" style="left:1426.5px;top:176.78px;font-size:10px;letter-spacing:-0.33px;color:#fff;font-weight:normal;">7.00068</div>
<div class="t g" style="left:1426.5px;top:270.78px;font-size:10px;letter-spacing:-0.33px;color:#fff;font-weight:normal;">6.90100</div>
<div class="t g" style="left:1426.5px;top:345.78px;font-size:10px;letter-spacing:-0.33px;color:#fff;font-weight:normal;">6.82103</div>
<div class="t g" style="left:1425.5px;top:569.08px;font-size:10px;letter-spacing:-0.33px;color:#000;font-weight:normal;">0.085164</div>
<div class="t g" style="left:1425.5px;top:630.78px;font-size:10px;letter-spacing:-0.33px;color:#000;font-weight:normal;">0.00</div>
<div class="t g" style="left:1425.5px;top:657.78px;font-size:10px;letter-spacing:-0.33px;color:#000;font-weight:normal;">-0.04159</div>
<div class="t g" style="left:1425.5px;top:673.18px;font-size:10px;letter-spacing:-0.33px;color:#000;font-weight:normal;">100</div>
<div class="t g" style="left:1425.5px;top:706.78px;font-size:10px;letter-spacing:-0.33px;color:#000;font-weight:normal;">70</div>
<div class="t g" style="left:1425.5px;top:757.78px;font-size:10px;letter-spacing:-0.33px;color:#000;font-weight:normal;">30</div>
<div class="t g" style="left:1425.5px;top:789.78px;font-size:10px;letter-spacing:-0.33px;color:#000;font-weight:normal;">0</div>
<div class="t g" style="left:4.5px;top:805.78px;font-size:10px;letter-spacing:-0.33px;color:#000;font-weight:normal;">4 Jul 2018</div>
<div class="t g" style="left:68.5px;top:805.78px;font-size:10px;letter-spacing:-0.33px;color:#000;font-weight:normal;">27 Jul 2018</div>
<div class="t g" style="left:132.5px;top:805.78px;font-size:10px;letter-spacing:-0.33px;color:#000;font-weight:normal;">20 Aug 2018</div>
<div class="t g" style="left:196.5px;top:805.78px;font-size:10px;letter-spacing:-0.33px;color:#000;font-weight:normal;">11 Sep 2018</div>
<div class="t g" style="left:260.5px;top:805.78px;font-size:10px;letter-spacing:-0.33px;color:#000;font-weight:normal;">3 Oct 2018</div>
<div class="t g" style="left:324.5px;top:805.78px;font-size:10px;letter-spacing:-0.33px;color:#000;font-weight:normal;">25 Oct 2018</div>
<div class="t g" style="left:388.5px;top:805.78px;font-size:10px;letter-spacing:-0.33px;color:#000;font-weight:normal;">16 Nov 2018</div>
<div class="t g" style="left:452.5px;top:805.78px;font-size:10px;letter-spacing:-0.33px;color:#000;font-weight:normal;">10 Dec 2018</div>
<div class="t g" style="left:516.5px;top:805.78px;font-size:10px;letter-spacing:-0.33px;color:#000;font-weight:normal;">1 Jan 2019</div>
<div class="t g" style="left:580.5px;top:805.78px;font-size:10px;letter-spacing:-0.33px;color:#000;font-weight:normal;">23 Jan 2019</div>
<div class="t g" style="left:644.5px;top:805.78px;font-size:10px;letter-spacing:-0.33px;color:#000;font-weight:normal;">14 Feb 2019</div>
<div class="t g" style="left:708.5px;top:805.78px;font-size:10px;letter-spacing:-0.33px;color:#000;font-weight:normal;">8 Mar 2019</div>
<div class="t g" style="left:772.5px;top:805.78px;font-size:10px;letter-spacing:-0.33px;color:#000;font-weight:normal;">1 Apr 2019</div>
<div class="t g" style="left:836.5px;top:805.78px;font-size:10px;letter-spacing:-0.33px;color:#000;font-weight:normal;">24 Apr 2019</div>
<div class="t g" style="left:900.5px;top:805.78px;font-size:10px;letter-spacing:-0.33px;color:#000;font-weight:normal;">16 May 2019</div>
<div class="t g" style="left:964.5px;top:805.78px;font-size:10px;letter-spacing:-0.33px;color:#000;font-weight:normal;">7 Jun 2019</div>
<div class="t g" style="left:1028.5px;top:805.78px;font-size:10px;letter-spacing:-0.33px;color:#000;font-weight:normal;">1 Jul 2019</div>
<div class="t g" style="left:1092.5px;top:805.78px;font-size:10px;letter-spacing:-0.33px;color:#000;font-weight:normal;">23 Jul 2019</div>
<div class="t g" style="left:20.5px;top:28.78px;font-size:10px;letter-spacing:-0.12px;color:#000;font-weight:normal;">USDCNH-,Daily</div>
<div class="t g" style="left:95.5px;top:28.78px;font-size:10px;letter-spacing:-0.36px;color:#000;font-weight:normal;">7.08170 7.08220 7.07380 7.07611</div>
<div class="t g" style="left:10px;top:570.78px;font-size:10px;letter-spacing:-0.33px;color:#000;font-weight:normal;">MACD(12,26,9) 0.051318 0.025932</div>
<div class="t g" style="left:10px;top:675.78px;font-size:10px;letter-spacing:-0.33px;color:#000;font-weight:normal;">RSI(14) 70.1422</div>

<div class="t" style="left:9px;top:3.5px;font-size:9.5px;color:#404040">H4</div>
<div class="t" style="left:38px;top:3.5px;font-size:9.5px;color:#404040">D1</div>
<div class="t" style="left:65px;top:3.5px;font-size:9.5px;color:#404040;letter-spacing:-0.3px">W1</div>
<div class="t" style="left:91.5px;top:3.5px;font-size:9.5px;color:#404040">MN</div>
<svg width="10" height="6" style="position:absolute;left:9px;top:31px"><polygon points="0,4.5 3.5,0 7,4.5" fill="#000"/></svg>
<div class="bar" style="left:9px;top:43px;width:221px;height:67px;background:#fff"></div>
<!-- SELL panel -->
<div class="bar" style="left:9px;top:44px;width:53px;height:25px;background:linear-gradient(#5a5aff,#3a3ae4);box-sizing:border-box;border:1px solid #1010b0;border-bottom:none"></div>
<div class="bar" style="left:9px;top:68px;width:109px;height:40px;background:linear-gradient(#2e2edc,#0404b4);box-sizing:border-box;border:1px solid #0000a0;border-top:none"></div>
<div class="bar" style="left:13px;top:68px;width:45px;height:1px;background:#8a8aff"></div>
<div class="t" style="left:21.5px;top:49.5px;font-size:11px;color:#eeeeff;letter-spacing:-0.2px;margin-top:0.7px">SELL</div>
<div class="t" style="left:29px;top:88.5px;font-size:12px;font-weight:bold;color:#fff;letter-spacing:0.1px">7.07</div>
<div class="t" style="left:57px;top:70px;font-size:33.5px;color:#fff;letter-spacing:-1.2px">61</div>
<div class="t" style="left:97px;top:73px;font-size:11px;font-weight:bold;color:#fff">1</div>
<!-- BUY panel -->
<div class="bar" style="left:176px;top:44px;width:52px;height:25px;background:linear-gradient(#5a5aff,#3a3ae4);box-sizing:border-box;border:1px solid #1010b0;border-bottom:none"></div>
<div class="bar" style="left:120px;top:68px;width:108px;height:40px;background:linear-gradient(#2e2edc,#0404b4);box-sizing:border-box;border:1px solid #0000a0;border-top:none"></div>
<div class="bar" style="left:180px;top:68px;width:44px;height:1px;background:#8a8aff"></div>
<div class="t" style="left:189px;top:49.5px;font-size:11px;color:#eeeeff;letter-spacing:0.2px;margin-top:0.7px">BUY</div>
<div class="t" style="left:139px;top:88.5px;font-size:12px;font-weight:bold;color:#fff;letter-spacing:0.1px">7.07</div>
<div class="t" style="left:167.5px;top:70px;font-size:33.5px;color:#fff;letter-spacing:-1.2px">84</div>
<div class="t" style="left:208px;top:73px;font-size:11px;font-weight:bold;color:#fff">3</div>
<!-- lot box -->
<div class="bar" style="left:63px;top:44px;width:111px;height:23px;background:#fff;box-sizing:border-box;border:1px solid #b4b4b4"></div>
<div class="bar" style="left:64px;top:45px;width:20px;height:21px;background:linear-gradient(#f4f4f4 0%,#e6e6e6 45%,#d6d6d6 100%);box-sizing:border-box;border-right:1px solid #b4b4b4"></div>
<div class="bar" style="left:152px;top:45px;width:21px;height:21px;background:linear-gradient(#f4f4f4 0%,#e6e6e6 45%,#d6d6d6 100%);box-sizing:border-box;border-left:1px solid #b4b4b4"></div>
<svg width="8" height="5" style="position:absolute;left:71px;top:54px"><polygon points="0,0 6,0 3,3.5" fill="#5a6ab4"/></svg>
<svg width="8" height="5" style="position:absolute;left:159.5px;top:53px"><polygon points="0,3.5 6,3.5 3,0" fill="#5a6ab4"/></svg>
<div class="t" style="left:125px;top:49.3px;font-size:12px;color:#000">1.00</div>
<!-- bottom tabs -->
<div class="bar" style="left:0;top:821px;width:1461px;height:1px;background:#e3e3e3"></div>
<div class="bar" style="left:0;top:823px;width:1461px;height:1px;background:#000"></div>
<div class="bar" style="left:0;top:824px;width:1461px;height:17px;background:#f0f0f0"></div>
<div class="bar" style="left:2px;top:823px;width:1px;height:18px;background:#000"></div>
<div class="bar" style="left:439px;top:822px;width:112px;height:19px;background:#fff"></div>
<div class="bar" style="left:439px;top:823px;width:1px;height:18px;background:#000"></div>
<div class="bar" style="left:550px;top:823px;width:1px;height:18px;background:#000"></div>

<div class="t" style="left:18px;top:827.5px;font-size:12px;color:#5a5a5a;letter-spacing:0px">EURUSD-,Daily</div>
<div class="t" style="left:125px;top:827.5px;font-size:12px;color:#5a5a5a;letter-spacing:0.2px">AUDUSD-,Daily</div>
<div class="t" style="left:235px;top:827.5px;font-size:12px;color:#5a5a5a;letter-spacing:0.05px">USDCHF-,Daily</div>
<div class="t" style="left:342px;top:827.5px;font-size:12px;color:#5a5a5a;letter-spacing:0.1px">USDCAD-,Daily</div>
<div class="t" style="left:562px;top:827.5px;font-size:12px;color:#5a5a5a;letter-spacing:0.15px">EURCHF-,Weekly</div>
<div class="t" style="left:683px;top:827.5px;font-size:12px;color:#5a5a5a;letter-spacing:0.35px">XAUUSD-,Weekly</div>
<div class="t" style="left:806px;top:827.5px;font-size:12px;color:#5a5a5a;letter-spacing:0.05px">GBPUSD-,H1</div>
<div class="t" style="left:902px;top:827.5px;font-size:12px;color:#5a5a5a;letter-spacing:0.45px">UKOil-,H4</div>
<div class="t" style="left:981px;top:827.5px;font-size:12px;color:#5a5a5a;letter-spacing:0.3px">USDX-,Weekly</div>
<div class="t" style="left:451px;top:827.5px;font-size:12px;color:#000;letter-spacing:0.3px">USDCNH-,Daily</div>
<div class="bar" style="left:115px;top:826px;width:1px;height:13px;background:#404040"></div>
<div class="bar" style="left:223px;top:826px;width:1px;height:13px;background:#404040"></div>
<div class="bar" style="left:331px;top:826px;width:1px;height:13px;background:#404040"></div>
<div class="bar" style="left:671px;top:826px;width:1px;height:13px;background:#404040"></div>
<div class="bar" style="left:795px;top:826px;width:1px;height:13px;background:#404040"></div>
<div class="bar" style="left:891px;top:826px;width:1px;height:13px;background:#404040"></div>
<div class="bar" style="left:972px;top:826px;width:1px;height:13px;background:#404040"></div>
<div class="bar" style="left:1075px;top:826px;width:1px;height:13px;background:#404040"></div>
<svg width="6" height="8" style="position:absolute;left:1436px;top:828px"><polygon points="4,0 4,7 0,3.5" fill="#a0a0a0"/></svg>
<svg width="6" height="8" style="position:absolute;left:1455px;top:828px"><polygon points="0,0 0,7 4,3.5" fill="#a0a0a0"/></svg>
</body></html>
